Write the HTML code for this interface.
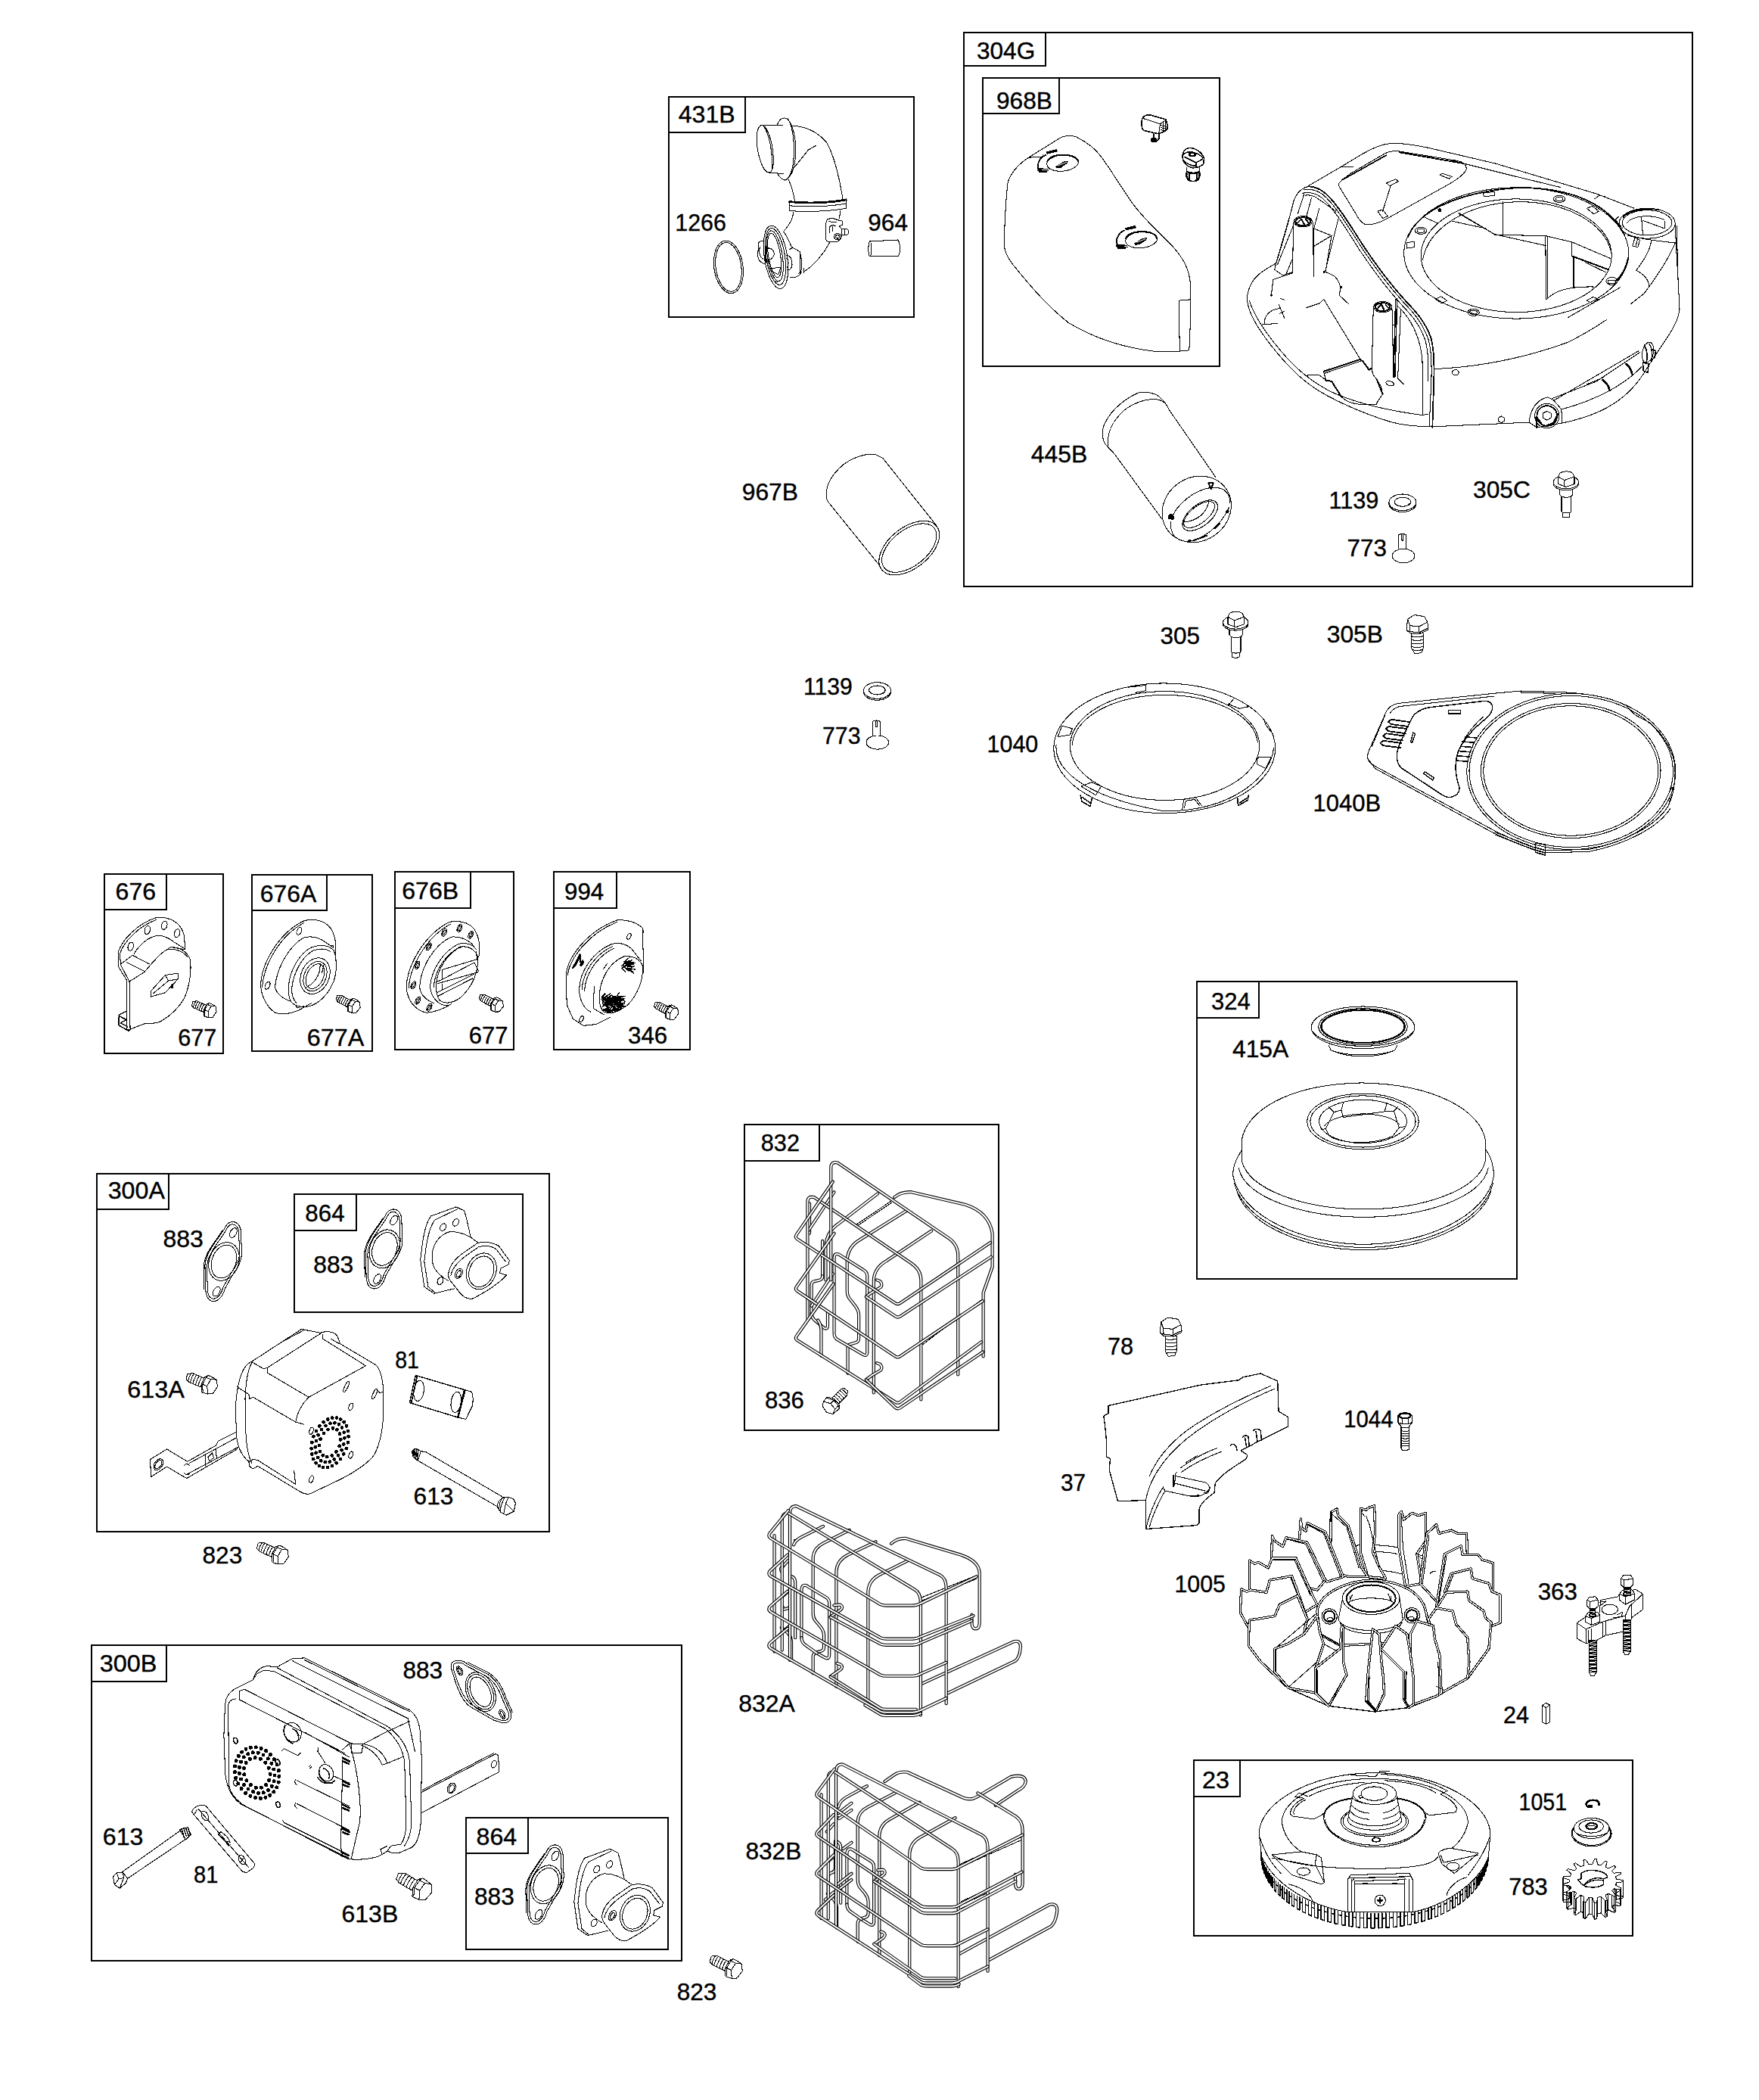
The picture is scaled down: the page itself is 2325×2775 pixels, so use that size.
<!DOCTYPE html>
<html><head><meta charset="utf-8"><title>Parts diagram</title>
<style>
html,body{margin:0;padding:0;background:#fff;}
svg{display:block;}
text{font-family:"Liberation Sans",sans-serif;font-size:31.2px;fill:#000;stroke:#000;stroke-width:.4px;}
.bx{fill:none;stroke:#000;stroke-width:2;shape-rendering:crispEdges;}
.p{shape-rendering:crispEdges;fill:none;stroke:#000;stroke-width:1.05;stroke-linecap:round;stroke-linejoin:round;}
.p *{vector-effect:non-scaling-stroke;}
.w{fill:#fff;}
.k{fill:#000;}
.wo{vector-effect:non-scaling-stroke;fill:none;stroke:#000;stroke-width:4.2;stroke-linecap:round;stroke-linejoin:round;}
.wi{vector-effect:non-scaling-stroke;fill:none;stroke:#fff;stroke-width:2;stroke-linecap:round;stroke-linejoin:round;}
</style></head><body>
<svg width="2325" height="2775" viewBox="0 0 2325 2775">
<rect width="2325" height="2775" fill="#fff"/>

<g class="bx">
<rect x="883.5" y="128" width="324.2" height="291.0"/><path d="M985.2 128V175H883.5"/>
<rect x="1274" y="43" width="963.0" height="731.5"/><path d="M1382 43V87H1274"/>
<rect x="1299" y="103" width="313.0" height="381.0"/><path d="M1400 103V150H1299"/>
<rect x="138" y="1155" width="157.0" height="236.5"/><path d="M220 1155V1202H138"/>
<rect x="332.6" y="1155.6" width="159.0" height="233.1"/><path d="M432.4 1155.6V1203H332.6"/>
<rect x="522" y="1152.4" width="157.4" height="234.6"/><path d="M622 1152.4V1200.4H522"/>
<rect x="731.7" y="1152.4" width="180.3" height="234.9"/><path d="M814.6 1152.4V1200.4H731.7"/>
<rect x="127.8" y="1551" width="597.8" height="472.7"/><path d="M223.2 1551V1597.7H127.8"/>
<rect x="388.7" y="1578.4" width="302.3" height="155.4"/><path d="M471.3 1578.4V1625.7H388.7"/>
<rect x="120.5" y="2173.5" width="780.8" height="417.5"/><path d="M220.2 2173.5V2221.6H120.5"/>
<rect x="615.8" y="2401.7" width="267.6" height="174.0"/><path d="M697.6 2401.7V2448.8H615.8"/>
<rect x="983.5" y="1486.3" width="336.8" height="403.7"/><path d="M1083.3 1486.3V1533.8H983.5"/>
<rect x="1581.6" y="1297" width="422.9" height="393.0"/><path d="M1664.2 1297V1345H1581.6"/>
<rect x="1577.6" y="2326.4" width="579.9" height="231.3"/><path d="M1639.3 2326.4V2374H1577.6"/>
</g>
<!-- 00_defs.svg -->
<defs class="p">
<g id="washer">
<ellipse cx="0" cy="1.9" rx="18" ry="10.8"/>
<ellipse class="w" cx="0" cy="0" rx="18" ry="10.8"/>
<ellipse cx="0" cy="-0.5" rx="10.8" ry="6"/>
<path d="M-9 2C-5 6.5 5 6.5 9 2"/>
</g>
<g id="rivet">
<ellipse class="w" cx="0" cy="0" rx="14.8" ry="9.2"/>
<path class="w" d="M-6.6 -9.5V-27.5C-4 -29.5 1 -29.5 3.6 -27.5V-9.5"/>
<path d="M-2.3 -28.5V-20.5H-0.2V-28.5"/>
</g>
<g id="bolt305">
<ellipse cx="0" cy="2" rx="16.7" ry="8.8"/>
<ellipse class="w" cx="0" cy="0" rx="16.7" ry="8.8"/>
<path class="w" d="M-10.3 -7.2L-8 -11.9C-3.2 -15.1 4.8 -15.1 8.8 -11.9L11.1 -7.2V2.4L0 6.4L-10.3 2.4Z"/>
<path d="M-10.3 -7.2L-2 -2.5L11.1 -7.2M-2 -2.5V5.6"/>
<path d="M-8.3 9.5V16.7L-5.9 19V39C-5.9 41.2 6.7 41.2 6.7 39V19L8.8 16.7V9.5M-5.9 19C-3 20.5 4 20.5 6.7 19"/>
<path d="M-4.8 40.7V45.4C-4.8 47.2 4.8 47.2 4.8 45.4V40.7"/>
</g>
<!-- hex self tapping screw; units: 8.795 per px; origin head center; tip pointing down -->
<g id="scr">
<path class="w" d="M-68 105V280L-30 343L45 330L65 280V105Z"/>
<path d="M-68 140C-40 150 30 150 65 138M-68 180C-40 190 30 190 65 178M-68 220C-40 230 30 230 65 218M-68 260C-40 270 30 270 65 258M-60 295C-35 305 30 305 58 293"/>
<path class="w" d="M-115 -60L-35 -110L80 -90L115 -27L125 45L120 65L25 110L-85 105L-125 70V25Z"/>
<path d="M-115 -60L-90 15L20 25L115 -27M-90 15L-85 85L20 95L110 50M20 25V95M-85 85L-125 70M20 95L25 110"/>
</g>
</defs>
<!-- 00_defs2.svg -->
<defs class="p">
<!-- gasket: units 3.909/px, origin center -->
<g id="gask">
<path id="gko" d="M45 -205C75 -205 90 -175 88 -140L92 -40C90 0 75 30 50 60L5 140C-5 180 -30 210 -60 205C-85 200 -95 170 -95 140L-98 20C-95 -20 -80 -50 -55 -85L0 -165C10 -190 25 -205 45 -205Z"/>
<path d="M42 -192C66 -192 79 -168 77 -138L81 -42C79 -5 66 22 42 52L-4 132C-13 168 -34 195 -58 192C-78 188 -85 165 -85 138L-88 24C-85 -14 -71 -42 -47 -76L8 -156C17 -178 28 -192 42 -192Z"/>
<path d="M-95 140L-98 20C-95 -20 -80 -50 -55 -85L0 -165" transform="translate(-7,4)"/>
<ellipse cx="0" cy="0" rx="76" ry="102" transform="rotate(20)"/>
<ellipse cx="0" cy="0" rx="62" ry="88" transform="rotate(20)"/>
<ellipse cx="48" cy="-148" rx="16" ry="27" transform="rotate(30 48 -148)"/>
<ellipse cx="-38" cy="155" rx="16" ry="27" transform="rotate(30 -38 155)"/>
</g>
<!-- intake elbow: units 3.909/px, origin = zoom(1190,55) -->
<g id="elbow" transform="translate(-1190,-55)">
<path d="M1455 215C1445 170 1435 120 1422 78L1380 58L1250 105C1230 130 1215 180 1205 250L1195 330L1215 470L1265 505L1370 480"/>
<path d="M1385 70L1270 125C1250 150 1235 200 1225 260L1215 340L1235 470L1270 500"/>
<ellipse cx="1312" cy="163" rx="14" ry="20" transform="rotate(30 1312 163)"/><ellipse cx="1378" cy="138" rx="14" ry="20" transform="rotate(30 1378 138)"/><ellipse cx="1298" cy="440" rx="14" ry="20" transform="rotate(30 1298 440)"/>
<path d="M1340 440C1290 410 1260 380 1255 330C1250 260 1290 200 1350 185C1400 185 1440 200 1490 240"/>
<path class="w" d="M1340 400C1345 360 1370 330 1410 300L1490 245C1520 235 1570 240 1600 260L1655 335L1650 355L1610 375L1605 400L1640 410L1620 430C1600 450 1570 470 1540 490L1470 530C1440 540 1410 520 1390 490L1350 440C1340 425 1338 410 1340 400Z"/>
<path d="M1352 412C1358 375 1382 348 1420 318L1495 265C1525 255 1562 258 1588 278L1635 340"/>
<ellipse cx="1510" cy="390" rx="75" ry="96" transform="rotate(22 1510 390)"/><ellipse cx="1510" cy="392" rx="62" ry="82" transform="rotate(22 1510 392)"/>
<ellipse cx="1393" cy="402" rx="17" ry="28" transform="rotate(28 1393 402)"/><ellipse cx="1393" cy="404" rx="9" ry="19" transform="rotate(28 1393 404)"/>
</g>
</defs>
<!-- 01_431B.svg -->
<g class="p" transform="translate(930,140) scale(0.15918)">
<!-- elbow -->
<path d="M478 160C430 180 430 330 470 450C495 530 530 570 560 545C595 500 580 330 540 230C520 180 495 155 478 160Z"/>
<path d="M500 168C545 240 578 390 566 525"/>
<path d="M478 160L655 158M545 555L660 562"/>
<path d="M612 155C625 120 645 100 670 100C720 100 755 200 765 330C770 470 740 590 680 615C660 622 640 600 612 562"/>
<path d="M700 105C745 180 760 330 745 470C738 520 725 570 700 600"/>
<path d="M740 165C850 170 940 210 1020 300C1080 400 1130 600 1155 770"/>
<path d="M700 600C730 660 745 720 757 788"/>
<path d="M935 328L870 365L750 515"/>
<path d="M712 790C850 805 1050 800 1185 772V850C1050 875 850 882 712 870Z"/>
<path d="M712 798C850 813 1050 808 1185 780" stroke-width="2"/>
<path d="M712 828C850 842 1050 836 1185 810"/>
<path d="M745 880C745 940 710 990 670 1035M1135 868L1128 935"/>
<path d="M1050 1130C1000 1220 920 1320 830 1380"/>
<!-- bracket -->
<path d="M1030 940C1060 930 1100 935 1105 945L1150 955V990L1125 995L1145 1020V1075C1145 1110 1110 1135 1080 1130L1030 1125C1010 1120 1010 1080 1012 1040C1012 1000 1015 950 1030 940Z"/>
<path d="M1040 960L1100 965M1045 1010C1050 990 1080 985 1100 1000M1045 1010V1050M1070 1005V1040"/>
<path d="M1150 1022H1190C1208 1025 1208 1065 1190 1070H1150M1172 1022V1070"/>
<circle cx="1112" cy="1085" r="27"/><circle cx="1112" cy="1085" r="15"/>
<!-- mounting flange -->
<ellipse cx="600" cy="1255" rx="95" ry="265" transform="rotate(-9 600 1255)"/>
<ellipse cx="597" cy="1250" rx="78" ry="238" transform="rotate(-9 597 1250)"/>
<ellipse cx="592" cy="1245" rx="62" ry="212" transform="rotate(-9 592 1245)"/>
<ellipse cx="588" cy="1240" rx="50" ry="185" transform="rotate(-9 588 1240)"/>
<path d="M500 1120C470 1120 450 1130 455 1150L450 1250C455 1290 480 1300 505 1310M470 1170C455 1200 465 1260 495 1270"/>
<path d="M690 1240C720 1240 740 1280 735 1320C730 1350 715 1365 695 1360M690 1265C705 1280 710 1320 695 1340"/>
<path d="M520 1185C560 1170 590 1200 585 1235C575 1265 545 1285 525 1290M515 1160V1300"/>
<path d="M545 1350L640 1340M560 1370L620 1400L640 1340M590 1455L615 1460"/>
<path d="M665 1045C700 1090 720 1150 730 1170L800 1210C815 1260 820 1340 805 1395C780 1420 750 1428 722 1425"/>
<path d="M715 1190L735 1180M800 1210V1395M830 1345V1385M790 1390L815 1378"/>
<!-- 1266 o-ring -->
<ellipse cx="207" cy="1337" rx="120" ry="220" transform="rotate(-8 207 1337)"/>
<ellipse cx="207" cy="1337" rx="106" ry="205" transform="rotate(-8 207 1337)"/>
<!-- 964 -->
<ellipse cx="1381" cy="1187" rx="12" ry="63"/>
<path d="M1381 1124L1612 1112C1636 1140 1636 1220 1615 1246L1381 1250"/>
</g>
<!-- 02_967B.svg -->
<g class="p" transform="translate(1080,580) scale(0.10233)">
<path d="M820 1650L140 810L120 765C105 600 180 470 340 330C450 250 600 190 745 198L850 250L1555 1135"/>
<ellipse cx="1190" cy="1408" rx="452" ry="264" transform="rotate(-38.5 1190 1408)"/>
<ellipse cx="1190" cy="1408" rx="412" ry="232" transform="rotate(-38.5 1190 1408)"/>
</g>
<!-- 03_968B.svg -->
<g class="p" transform="translate(1310,140) scale(0.17055)">
<path d="M290 400C200 460 150 530 130 590C110 750 105 950 100 1060C100 1130 130 1180 170 1230C260 1340 400 1520 600 1680C800 1800 1050 1880 1300 1905L1460 1900L1535 1893C1545 1700 1550 1500 1545 1380C1535 1250 1480 1170 1400 1080C1300 980 1180 870 1100 760C1000 620 920 480 850 390C800 320 720 270 660 240C620 225 570 230 540 245Z"/>
<path d="M290 400L400 393M1545 1500L1455 1508L1462 1900"/>
<!-- cap 1 -->
<ellipse cx="555" cy="442" rx="123" ry="63" transform="rotate(-6 555 442)"/>
<path d="M436 430C450 390 520 372 600 382C640 388 668 405 676 430" stroke-width="2.2"/>
<path d="M425 380C375 395 355 450 368 492" stroke-width="1.8"/>
<path d="M410 388L400 376" />
<path class="k" d="M500 470L560 432L600 425L590 445L540 480L505 482Z" stroke="none"/>
<path d="M520 462L585 436" stroke="#fff" stroke-width="1"/>
<path d="M432 360L505 342M436 368L508 350" stroke-width="2"/>
<path d="M362 488L440 490M365 500L442 502M372 510L430 512" stroke-width="1.8"/>
<!-- cap 2 -->
<ellipse cx="1165" cy="1037" rx="123" ry="63" transform="rotate(-6 1165 1037)"/>
<path d="M1046 1025C1060 985 1130 967 1210 977C1250 983 1278 1000 1286 1025" stroke-width="2.2"/>
<path d="M1030 965C985 985 960 1040 980 1078" stroke-width="1.8"/>
<path class="k" d="M1110 1065L1170 1027L1212 1018L1202 1040L1150 1075L1115 1077Z" stroke="none"/>
<path d="M1130 1057L1197 1030" stroke="#fff" stroke-width="1"/>
<path d="M1045 950L1115 933M1048 958L1118 941" stroke-width="2"/>
<path d="M972 1078L1052 1082M975 1090L1055 1094M982 1100L1040 1103" stroke-width="1.8"/>
<!-- small cap A -->
<path d="M1170 100C1180 75 1210 65 1240 72L1355 105L1370 160C1370 185 1340 205 1310 210L1290 215L1185 190C1165 185 1165 130 1170 100Z" stroke-width="1.6"/>
<path d="M1180 97L1310 140L1355 108M1310 140L1300 212M1315 150L1366 163M1315 168L1364 178M1315 186L1356 192M1335 120V200M1350 112V195"/>
<path d="M1258 215V250M1300 215C1310 240 1300 265 1280 275" stroke-width="2"/>
<ellipse class="k" cx="1262" cy="264" rx="22" ry="17"/>
<!-- small cap B -->
<path d="M1485 400C1480 350 1510 325 1545 325C1600 330 1650 380 1650 410L1645 450C1620 475 1590 480 1560 480C1520 470 1485 440 1485 400Z" stroke-width="1.6"/>
<path d="M1490 375C1530 340 1600 360 1640 400M1500 395L1590 440L1640 410M1590 440V475M1485 420C1520 450 1560 465 1590 465" stroke-width="1.5"/>
<ellipse cx="1560" cy="375" rx="22" ry="14" stroke-width="2.4"/>
<path d="M1515 480V555C1535 595 1600 595 1615 555V470" stroke-width="1.5"/>
<path d="M1515 520C1510 550 1525 575 1545 580M1615 520C1620 550 1605 575 1585 580M1535 530V575M1595 530V575M1520 510C1550 525 1590 525 1612 510" stroke-width="2.4"/>
</g>
<!-- 04_445B.svg -->
<g class="p" transform="translate(1440,500) scale(0.11939)">
<path d="M805 1560L280 840L205 760C130 700 130 560 180 480C250 340 400 220 540 160C640 145 740 160 800 230C850 280 870 320 880 345L1395 1090"/>
<path d="M205 760C190 600 250 470 400 340C500 270 600 235 700 230C770 230 820 250 850 290"/>
<ellipse cx="1187" cy="1448" rx="396" ry="351" transform="rotate(-34.7 1187 1448)"/>
<path d="M905 1560C960 1400 1150 1240 1340 1210C1480 1195 1560 1260 1555 1380M900 1590C890 1720 960 1800 1080 1805C1250 1790 1450 1640 1545 1430"/>
<ellipse cx="1225" cy="1517" rx="230" ry="118" transform="rotate(-38 1225 1517)"/>
<ellipse cx="1215" cy="1508" rx="205" ry="93" transform="rotate(-38 1215 1508)"/>
<path d="M1325 1340C1310 1480 1200 1580 1045 1590"/>
<path d="M1318 1160H1372L1345 1225Z" stroke-width="2"/>
<path class="k" d="M875 1520L905 1500L935 1530L930 1560L880 1555Z"/>
<circle class="k" cx="1108" cy="1800" r="14"/><circle class="k" cx="1528" cy="1472" r="14"/>
<path d="M1150 1795L1300 1740M1390 1660L1440 1610" stroke-width="2"/>
</g>
<!-- 05_304G_housing.svg -->
<g class="p" transform="translate(1640,180) scale(0.190476)">
<!-- outer silhouette -->
<path d="M2730 500L2470 400L2170 310L1770 190L1300 80C1200 60 1100 45 1040 50C980 55 920 80 850 120L700 210L460 350C420 365 390 390 370 440C350 520 300 720 245 880C180 920 100 960 70 1030C45 1080 40 1130 50 1170C70 1260 150 1380 250 1500C350 1620 450 1720 600 1800C750 1880 900 1940 1050 1985C1150 2010 1250 2015 1330 2015L2000 1985"/>
<path d="M60 1140C90 1240 170 1360 270 1480C370 1600 470 1690 620 1770C770 1840 1000 1900 1260 1935L1300 1928"/>
<path d="M1470 170L1870 270L2220 355M2455 435L2490 410L2530 420M700 210L780 215"/>
<!-- ridge -->
<path d="M460 350C500 345 540 360 580 390C640 440 700 520 850 760C950 910 1050 1040 1150 1150C1220 1220 1280 1290 1320 1400C1340 1470 1345 1560 1340 1700L1330 2020" stroke-width="1.8"/>
<path d="M440 372C490 362 530 375 570 405C630 455 690 535 838 772C938 922 1038 1052 1138 1162C1208 1232 1262 1300 1302 1410C1322 1480 1327 1570 1322 1700L1308 2015"/>
<path d="M430 395C480 385 520 395 560 425C615 470 675 550 822 786C922 936 1022 1066 1122 1176C1190 1246 1245 1312 1282 1420C1300 1490 1305 1580 1300 1700"/>
<path d="M450 410C480 405 510 412 545 440L660 520"/>
<!-- window -->
<path d="M680 330C690 310 720 290 760 260L1000 120C1030 105 1060 100 1100 105L1500 170C1550 180 1570 200 1565 230C1555 260 1500 300 1450 330L1000 580C950 605 900 620 860 610C840 600 820 580 800 540L690 360C680 345 678 335 680 330Z"/>
<path d="M700 305L1010 132M1100 112L1540 188" stroke-width="1.8"/>
<path d="M1380 268L1400 258L1465 280L1445 295ZM1010 325L1075 298L1095 312L1035 345ZM1040 345L985 520M950 520L985 510L1020 555L985 570Z"/>
<!-- posts -->
<ellipse cx="432" cy="592" rx="63" ry="38"/><ellipse cx="432" cy="592" rx="52" ry="29" stroke-width="2"/>
<path d="M395 600L420 575L440 610M450 575L470 600" stroke-width="2"/>
<path d="M365 600L360 950M500 600L507 975"/>
<ellipse cx="985" cy="1185" rx="63" ry="38"/><ellipse cx="985" cy="1185" rx="52" ry="29" stroke-width="2"/>
<path d="M950 1195L975 1165L995 1205M1005 1170L1025 1190" stroke-width="2"/>
<path d="M920 1200L910 1600L915 1650M1050 1200L1060 1670"/>
<!-- cavity lines -->
<path d="M440 400L395 540M490 430L455 560M545 500L505 650V975M680 560L585 940M505 640L630 690L505 765M630 690L590 930"/>
<path d="M350 520L245 880L235 925L290 965L355 945M365 620L255 890M355 860L315 955"/>
<path d="M355 950L225 995L212 1100M575 935L650 970C680 1000 695 1040 690 1060L685 1105L750 1165M575 1130L545 1160L455 1190M575 1130L830 1548"/>
<circle class="k" cx="212" cy="1102" r="6"/><circle class="k" cx="695" cy="1048" r="6"/><circle class="k" cx="578" cy="940" r="6"/>
<path d="M165 1300C160 1250 200 1200 270 1195M150 1305L255 1300M265 1170L305 1265M270 1230L300 1215M275 1125L300 1135"/>
<path d="M575 1632L830 1548L850 1565L890 1620L910 1610" stroke-width="2"/>
<path d="M580 1645L832 1560M575 1632L590 1690M630 1700L700 1810C750 1860 850 1870 940 1860L950 1840L985 1790L975 1740L945 1690L915 1650M450 1660L540 1655L590 1690"/>
<path d="M590 1695L630 1700L700 1810M945 1690L985 1790" stroke-width="2"/>
<path d="M1075 1130L1060 1670M1085 1130L1070 1670" stroke-width="1.6"/>
<path d="M1110 1200L1090 1680L1130 1720M1090 1180C1180 1260 1250 1400 1260 1560L1265 1930M1055 1310H1075"/>
<ellipse cx="1035" cy="1715" rx="28" ry="15" transform="rotate(15 1035 1715)"/>
<ellipse cx="1490" cy="1640" rx="23" ry="19"/>
<path d="M1808 1942L1830 1955V1975L1808 1988L1786 1975V1955Z"/>
<!-- ring -->
<ellipse cx="1912" cy="811" rx="780" ry="455"/>
<path d="M1160 700C1230 520 1500 390 1912 358C2300 350 2560 480 2660 680" stroke-width="1.8"/>
<ellipse cx="1912" cy="828" rx="662" ry="393"/>
<path d="M1262 860C1300 640 1560 470 1912 455C2260 450 2520 600 2570 800"/>
<path d="M2690 840C2680 900 2650 960 2600 1010" stroke-width="2"/>
<ellipse cx="1250" cy="655" rx="40" ry="24"/><ellipse cx="1250" cy="655" rx="26" ry="14"/>
<ellipse cx="2210" cy="435" rx="40" ry="24"/><ellipse cx="2210" cy="435" rx="26" ry="14"/>
<ellipse cx="1615" cy="1222" rx="40" ry="24"/><ellipse cx="1615" cy="1222" rx="26" ry="14"/>
<ellipse cx="2575" cy="1005" rx="40" ry="26"/><path d="M2550 1000H2600V1020H2550Z"/>
<path d="M1150 740L1205 730V770L1150 778ZM1350 1130L1390 1112L1430 1140L1395 1160ZM1680 395L1760 385V410L1690 420ZM2400 500L2440 485L2485 520L2450 540ZM2400 1140L2445 1115L2480 1130L2440 1160Z"/>
<circle class="k" cx="1380" cy="513" r="10"/>
<path d="M1280 565L1370 605M1520 535L1760 680"/>
<!-- inside opening -->
<path d="M1818 455V685M1510 535L1760 680L2120 760M1470 590L1700 640M1760 685L2110 690L2300 735L2570 850M2115 695L2118 1130M2130 700V1120M2295 735L2300 840M2125 1130C2170 1080 2270 1040 2450 1045"/>
<path d="M2308 835L2310 1050M2308 835L2550 925" stroke-width="2"/>
<path d="M2390 875L2535 945"/>
<!-- boss -->
<ellipse cx="2820" cy="605" rx="195" ry="105"/><ellipse cx="2820" cy="600" rx="172" ry="87"/>
<path d="M2655 560C2700 510 2800 495 2900 510" stroke-width="1.8"/>
<path d="M2680 600C2720 550 2850 540 2940 580M2790 585L2940 640L2945 590M2780 560L2790 680"/>
<path d="M2630 640C2670 700 2820 720 3015 740M3015 600L3020 740L3035 1000L3045 1200C3040 1260 3010 1320 2970 1380L2870 1530M3025 620L3035 1000"/>
<path d="M3015 740C2970 850 2870 1000 2800 1090L2705 1165M2850 720C2840 800 2790 870 2745 930L2770 945C2810 970 2830 1000 2835 1040"/>
<path d="M2685 690L2720 695L2770 720L2755 770L2715 760M2735 705L2720 755M2755 712L2740 762M2620 560L2600 580L2650 640"/>
<!-- lower body -->
<path d="M1340 1615C1700 1600 2020 1520 2270 1430C2370 1380 2470 1320 2540 1272M2270 1258L2635 1048M1470 2008"/>
<!-- handle -->
<path d="M2160 1820L2470 1700L2770 1500M2170 1835L2760 1490M2225 1895C2470 1830 2670 1720 2780 1600M2230 1990C2470 1940 2670 1850 2800 1640M2870 1530L2800 1640"/>
<path d="M2510 1690C2540 1710 2555 1740 2560 1765M2675 1580C2700 1600 2712 1630 2715 1650" stroke-width="2.6"/>
<path d="M2400 1722L2520 1672"/>
<ellipse cx="2825" cy="1500" rx="38" ry="72" transform="rotate(12 2825 1500)"/>
<path d="M2800 1450C2820 1480 2825 1530 2815 1570M2835 1440C2855 1470 2860 1520 2850 1560M2790 1570L2830 1580L2825 1640L2795 1630ZM2860 1480L2880 1490L2870 1540" stroke-width="1.6"/>
<!-- bolt boss -->
<path d="M2000 1985C2010 1900 2050 1830 2130 1810L2170 1830L2225 1895L2230 1990L2055 2020Z"/>
<circle cx="2125" cy="1940" r="85"/><circle cx="2125" cy="1940" r="70" stroke-width="1.8"/>
<path d="M2125 1908L2153 1922V1954L2125 1970L2097 1954V1922Z"/>
<path d="M2055 2020L2050 1950L2085 1990M2200 1930L2170 1990L2120 2010" stroke-width="2.4"/>
</g>
<!-- 06_hw.svg -->
<g class="p">
<use href="#washer" x="1853.9" y="663.8"/>
<use href="#rivet" x="1855" y="734.5"/>
<use href="#bolt305" x="2069.9" y="637.1"/>
<use href="#washer" x="1159.4" y="912.5"/>
<use href="#rivet" x="1159.8" y="981"/>
<use href="#bolt305" x="1633.3" y="822.4"/>
<g transform="translate(1873.7,825) scale(0.1137)"><use href="#scr"/></g>
<g transform="translate(1547.8,1753.5) scale(0.1137)"><use href="#scr"/></g>
</g>
<g class="p"><g transform="translate(1097.5,1857.5) rotate(225) scale(0.088)"><use href="#scr"/></g></g>
<!-- 07_1040.svg -->
<g class="p" transform="translate(1380,890) scale(0.18192)">
<ellipse cx="875" cy="543" rx="805" ry="472"/>
<path d="M88 520C75 700 300 900 875 1000C1400 1000 1660 720 1668 540M1600 340L1610 372L1660 437"/>
<ellipse cx="877" cy="525" rx="688" ry="395"/>
<path d="M205 520C215 320 500 160 880 155C1250 160 1530 310 1552 500"/>
<path d="M612 100L740 85V125L660 140M1380 180L1345 225L1420 255L1480 240M130 380L205 400L190 445L100 460ZM1560 605L1650 610L1610 690L1550 660L1545 630ZM375 885L415 820L345 790L270 820L370 880M1005 985L1015 915L1100 900L1145 960M1020 975L1030 925L1095 915L1130 960"/>
<path d="M265 885L275 930L335 965L350 900M280 900L335 940M1405 900L1410 960L1480 920L1485 885M1420 940L1475 905" stroke-width="1.6"/>
<circle class="k" cx="1345" cy="225" r="6"/><circle class="k" cx="1480" cy="240" r="5"/>
</g>
<!-- 08_1040B.svg -->
<g class="p" transform="translate(1800,900) scale(0.25)">
<path d="M30 400C30 380 40 360 50 340L130 160C140 140 160 125 190 118L700 65L840 52L1020 58C1150 60 1300 80 1400 130L1430 165C1460 195 1500 205 1530 225C1600 290 1650 380 1655 450C1660 530 1650 600 1620 660C1560 760 1400 850 1200 890L970 895C900 880 800 840 700 790L70 450C45 435 30 420 30 400Z"/>
<path d="M38 418L70 462L700 805C800 850 900 890 970 907L1200 902C1400 862 1570 772 1632 672M150 168C160 152 175 142 200 134L700 80M122 182L52 348M840 60L1020 66" />
<path d="M700 797L915 880M705 812L915 895"/>
<ellipse cx="1107" cy="478" rx="552" ry="412"/><ellipse cx="1107" cy="478" rx="539" ry="400"/>
<ellipse cx="1105" cy="474" rx="475" ry="356"/><ellipse cx="1105" cy="474" rx="462" ry="343"/>
<path d="M185 400C185 370 195 340 210 310L265 195C280 165 310 150 350 140L650 105C680 105 695 125 690 150C685 175 660 195 630 220C580 260 540 310 510 370C490 430 495 500 515 560C520 590 500 610 460 615C440 612 420 600 400 585L210 460C195 445 185 425 185 400Z" stroke-width="1.5"/>
<path d="M640 190C560 260 500 360 495 450C495 500 510 540 515 560"/>
<path d="M458 155H522V172H458ZM258 322L272 272L282 280L266 326ZM325 487L335 480L382 512L375 524Z" stroke-width="1.4"/>
<path d="M140 215L155 203L250 216M140 215L155 228L245 240M127 252L142 240L238 252M127 252L142 265L232 277M113 290L128 277L224 290M113 290L128 303L218 314M98 328L113 315L210 328M98 328L113 341L204 352" stroke-width="1.8"/>
<path d="M545 295L605 300M532 320L595 325M521 345L585 350M511 370L576 375M503 395L568 400M498 420L561 425" stroke-width="1.6"/>
<path d="M918 855L970 865V920L918 905ZM918 893L970 908M918 880L970 895" stroke-width="1.6"/>
<path d="M1620 600L1640 560L1645 590L1625 640"/>
</g>
<!-- 09_676.svg -->
<g class="p" transform="translate(130,1195) scale(0.21035)">
<!-- 676 -->
<path d="M545 285L540 200C530 150 500 115 455 95C430 85 400 78 360 85C250 120 150 220 125 300V390L180 480V790L200 785"/>
<path d="M135 310C160 235 255 135 365 97M135 310L140 380L195 485L200 785"/>
<ellipse cx="308" cy="162" rx="17" ry="27" transform="rotate(15 308 162)"/><ellipse cx="415" cy="132" rx="17" ry="27" transform="rotate(15 415 132)"/><ellipse cx="495" cy="182" rx="17" ry="27" transform="rotate(15 495 182)"/><ellipse cx="203" cy="265" rx="17" ry="27" transform="rotate(15 203 265)"/>
<path d="M225 310C260 250 320 200 380 195C420 200 450 215 480 240L545 280M140 375L215 320L320 375M180 365L290 420M195 485L290 425C330 380 380 310 430 285L455 268L545 285"/>
<path d="M455 270C500 265 550 290 575 340C590 420 570 520 540 590C500 660 430 720 370 745L290 750L200 785M430 285C470 275 530 290 560 330"/>
<path d="M330 545L420 445L500 433V470L420 555L330 580ZM345 560L440 480L500 470M420 445L440 480"/>
<ellipse class="k" cx="463" cy="515" rx="6" ry="12"/>
<path d="M180 670L130 695L128 760L190 795L200 785M128 700L175 725L140 745L185 770" stroke-width="1.5"/>
<!-- 676A -->
<path d="M1490 300C1495 260 1490 200 1460 150C1420 100 1350 85 1290 105C1150 170 1030 350 1020 500C1020 560 1050 640 1110 680C1150 695 1200 690 1260 665L1340 620"/>
<path d="M1030 520C1040 370 1150 190 1290 118M1490 300L1495 400"/>
<ellipse cx="1262" cy="168" rx="14" ry="25" transform="rotate(25 1262 168)"/><ellipse cx="1063" cy="510" rx="14" ry="25" transform="rotate(25 1063 510)"/>
<path d="M1210 610C1150 590 1120 560 1110 520C1120 400 1200 260 1290 210C1340 195 1390 210 1430 240L1475 270"/>
<path d="M1195 520C1200 420 1260 310 1340 270C1400 250 1450 260 1480 290C1500 340 1500 420 1480 480C1450 560 1390 620 1330 640C1280 650 1230 640 1210 610C1195 580 1193 550 1195 520Z"/>
<path d="M1215 530C1225 430 1280 330 1350 290C1400 275 1440 280 1460 300M1215 530C1215 570 1225 600 1245 620"/>
<ellipse cx="1362" cy="450" rx="88" ry="118" transform="rotate(25 1362 450)"/><ellipse cx="1362" cy="452" rx="68" ry="98" transform="rotate(25 1362 452)"/><ellipse cx="1362" cy="452" rx="52" ry="82" transform="rotate(25 1362 452)"/>
<path d="M1395 375L1390 420C1380 460 1350 500 1310 520M1415 385L1405 430"/>
<path d="M1240 635L1250 650L1290 640M1462 262L1475 258L1478 275"/>
</g>
<g class="p">
<g transform="translate(277.5,1336) rotate(114) scale(0.075)"><use href="#scr"/></g>
<g transform="translate(467.6,1329.8) rotate(118) scale(0.075)"><use href="#scr"/></g>
</g>
<!-- 10_676B.svg -->
<g class="p" transform="translate(515,1195) scale(0.23309)">
<!-- 676B -->
<path d="M505 300C515 250 510 190 480 140C450 105 400 90 340 100C200 170 100 340 95 470C100 540 140 600 210 615C260 610 310 590 350 565"/>
<path d="M108 475C115 350 210 185 345 112"/>
<ellipse cx="310" cy="160" rx="12" ry="23" transform="rotate(25 310 160)"/><ellipse cx="397" cy="135" rx="12" ry="23" transform="rotate(25 397 135)"/><ellipse cx="460" cy="172" rx="12" ry="23" transform="rotate(25 460 172)"/><ellipse cx="222" cy="240" rx="12" ry="23" transform="rotate(25 222 240)"/><ellipse cx="157" cy="345" rx="12" ry="23" transform="rotate(25 157 345)"/><ellipse cx="135" cy="458" rx="12" ry="23" transform="rotate(25 135 458)"/><ellipse cx="160" cy="545" rx="12" ry="23" transform="rotate(25 160 545)"/><ellipse cx="225" cy="585" rx="12" ry="23" transform="rotate(25 225 585)"/><ellipse cx="310" cy="160" rx="5" ry="15" transform="rotate(25 310 160)"/><ellipse cx="397" cy="135" rx="5" ry="15" transform="rotate(25 397 135)"/><ellipse cx="460" cy="172" rx="5" ry="15" transform="rotate(25 460 172)"/><ellipse cx="222" cy="240" rx="5" ry="15" transform="rotate(25 222 240)"/><ellipse cx="157" cy="345" rx="5" ry="15" transform="rotate(25 157 345)"/><ellipse cx="135" cy="458" rx="5" ry="15" transform="rotate(25 135 458)"/><ellipse cx="160" cy="545" rx="5" ry="15" transform="rotate(25 160 545)"/><ellipse cx="225" cy="585" rx="5" ry="15" transform="rotate(25 225 585)"/>
<path d="M250 560C200 540 175 510 170 470C175 360 250 230 350 185C400 180 450 200 480 240"/>
<path d="M230 460C240 370 300 270 390 225C430 215 470 225 490 255M230 460C230 500 250 550 300 570L340 575M250 470C255 380 310 290 400 240"/>
<path d="M265 450C270 370 330 270 410 240C450 235 490 260 500 300C505 380 470 470 400 530C360 560 310 570 280 540C265 510 262 480 265 450Z"/>
<path d="M300 370L500 310M265 440L300 425L480 330L505 380M270 450L500 385M300 425V370M270 500L480 395M275 520L470 420M300 485V450M490 270L500 330"/>
<!-- 994 --><clipPath id="dm994"><path d="M1190 540C1185 440 1240 330 1330 295C1380 290 1420 310 1435 350C1440 420 1410 510 1350 570C1300 610 1250 625 1215 610C1195 590 1190 570 1190 540Z"/></clipPath>
<path d="M1440 160L1435 135C1400 100 1340 85 1290 90C1120 150 1010 300 1000 400L1005 570L1040 650L1100 688L1170 680L1250 640"/>
<path d="M1010 400C1020 310 1125 165 1290 100M1435 140L1440 390"/>
<ellipse cx="1357" cy="182" rx="10" ry="18" transform="rotate(25 1357 182)"/><ellipse cx="1088" cy="650" rx="10" ry="18" transform="rotate(25 1088 650)"/>
<path d="M1040 360L1080 285L1085 345L1100 325M1050 350L1075 305M1080 345C1095 350 1100 330 1095 320" stroke-width="2.2"/>
<path d="M1140 610C1100 590 1075 540 1075 480C1080 380 1150 270 1260 225C1300 215 1340 225 1370 250L1425 320M1090 485C1095 390 1160 285 1265 238M1105 490C1110 400 1170 300 1270 250"/>
<path d="M1190 540C1185 440 1240 330 1330 295C1380 290 1420 310 1435 350C1440 420 1410 510 1350 570C1300 610 1250 625 1215 610C1195 590 1190 570 1190 540Z"/>
<path d="M1160 465L1155 590L1215 625M1210 370L1235 335"/>
<path d="M1327 347l22 5M1346 325l15 17M1328 333l35 -1M1357 344l28 -17M1347 362l25 12M1349 325l30 5M1330 324l32 -1M1351 362l29 21M1335 359l24 22M1359 327l18 -14M1363 342l28 -10M1340 340l22 4M1344 363l29 21M1358 367l28 -17M1358 366l33 3M1351 332l32 4M1329 325l32 24M1319 359l23 -17M1330 357l32 -23M1346 325l29 -8M1359 367l25 25M1330 326l27 -23M1325 341l27 -17M1317 362l21 23M1360 340l24 1M1347 349l26 6M1362 345l24 11M1327 336l35 1M1342 323l23 4M1316 350l28 -22M1346 343l29 -7M1350 356l15 -22M1349 366l20 -2M1345 337l22 -9M1333 349l21 -6M1354 324l26 12M1331 333l31 -13M1324 342l29 -20M1331 338l32 -3M1358 330l22 8" stroke-width="1.2" clip-path="url(#dm994)"/>
<path d="M1297 560l20 -19M1258 536l31 17M1220 544l31 7M1289 550l18 -10M1287 543l22 -4M1246 556l33 -17M1201 607l33 24M1248 608l34 -14M1282 597l28 1M1232 550l20 -22M1265 545l31 -23M1299 583l33 20M1299 572l15 12M1219 546l28 1M1246 607l27 -8M1228 599l25 14M1239 536l26 16M1219 593l33 15M1291 518l28 18M1205 543l20 1M1247 562l31 -25M1206 530l17 -22M1307 599l17 0M1235 547l22 7M1265 552l19 -9M1214 570l29 -6M1209 534l22 5M1286 554l31 6M1247 553l25 10M1246 583l24 -13M1259 584l16 -4M1247 601l34 -6M1299 593l20 -2M1214 595l28 19M1287 581l30 3M1211 573l15 -18M1285 522l17 -20M1297 535l15 17M1213 598l28 17M1305 573l31 -23M1284 566l29 -20M1282 606l16 -9M1262 596l20 -16M1227 576l30 -5M1240 555l22 -4M1209 565l34 -4M1282 533l29 13M1274 567l25 7M1299 532l17 12M1301 567l24 11M1220 543l19 4M1235 540l29 23M1233 585l23 18M1264 543l19 -24M1253 554l18 -7M1235 591l18 25M1253 574l24 17M1290 570l25 11M1294 556l30 23M1251 539l20 11M1274 609l32 -13M1221 542l19 10M1294 603l20 18M1234 558l30 -21M1210 597l21 -7M1264 582l15 -8M1248 564l19 4M1305 555l26 -19M1230 581l17 19M1300 527l34 -6M1285 589l21 9M1272 594l20 13M1306 581l26 -19M1254 551l29 9M1262 535l28 7M1220 602l28 -19M1303 531l22 11M1266 570l28 -2M1234 534l16 11M1283 569l30 -7M1229 554l32 -23M1256 541l30 -7M1237 556l26 14M1239 598l17 -11M1211 528l31 11M1220 535l23 12M1290 589l27 -18M1244 536l26 3M1222 541l31 -23M1288 602l34 -6M1261 573l28 24M1276 546l32 -1M1266 587l15 14M1273 564l25 -2M1221 568l16 0M1271 560l26 23M1298 530l31 6M1206 552l20 -21M1259 606l21 19M1276 530l32 5M1302 586l30 -8M1289 606l32 -3M1283 564l17 -23M1209 537l18 -0M1277 569l23 7M1234 562l30 -5M1220 603l29 -7M1241 568l27 -14M1200 537l31 -18M1251 536l19 -16M1244 533l16 -19M1219 564l16 -24M1249 556l29 -22M1244 555l16 23M1224 526l24 -17M1268 550l17 -22M1280 544l31 -2M1303 546l20 -12M1290 577l22 -20M1275 610l27 -25M1203 526l18 -23M1206 580l33 -15M1307 563l31 21M1303 521l21 5M1304 526l21 17M1213 555l22 9M1302 534l30 12M1292 570l33 -7M1246 539l31 -1M1230 534l29 5M1278 554l25 -17M1278 520l24 13M1275 527l20 17M1271 601l32 -3M1299 587l22 -6M1208 555l34 -20M1263 528l17 7M1226 522l18 7M1264 519l20 23M1224 571l23 14M1266 592l26 -16M1220 525l32 -19M1203 609l19 20M1209 562l19 16M1268 578l30 19M1238 575l24 -19M1292 574l31 -15M1259 562l30 -21M1238 564l16 3M1281 558l28 5" stroke-width="1.2" clip-path="url(#dm994)"/>
</g>
<g class="p">
<g transform="translate(656.7,1328.5) rotate(118) scale(0.075)"><use href="#scr"/></g>
<g transform="translate(887.9,1338.6) rotate(118) scale(0.075)"><use href="#scr"/></g>
</g>
<!-- 11_gaskets.svg -->
<g class="p">
<g transform="translate(296,1667) scale(0.25583)"><use href="#gask"/></g>
<g transform="translate(508.4,1650.4) scale(0.25583)"><use href="#gask"/></g>
<g transform="translate(554.4,1594.1) scale(0.25583)"><use href="#elbow"/></g>
<g transform="translate(721.7,2490.3) scale(0.25583)"><use href="#gask"/></g>
<g transform="translate(757.5,2442.5) scale(0.25583)"><use href="#elbow"/></g>
</g>
<!-- 12_300A.svg -->
<g class="p" transform="translate(180,1740) scale(0.19329)">
<path d="M1130 85L1260 110C1300 95 1350 100 1375 130L1395 185L1640 330C1670 360 1685 420 1690 500V640C1690 760 1670 860 1630 940C1600 990 1500 1060 1400 1110L1190 1210C1160 1215 1140 1210 1120 1195L830 1020C810 1040 790 1045 775 1020L770 990C720 950 690 880 685 800L680 620C685 520 700 420 740 350C760 320 780 310 800 300Z"/>
<path d="M800 315L870 355L895 350L1260 115M1150 90L1000 170M900 385L1180 550L1570 335L1275 150V120M895 350L900 385M1330 150L1390 185"/>
<path d="M800 300C770 340 750 430 745 560L750 800C755 900 770 960 790 1000M690 480L770 530L775 560L800 550L1090 720L1145 735M1180 550C1130 600 1100 660 1090 720M770 990L800 975L830 980L1090 1145L1080 1055M830 1020L880 1050"/>
<g class="k" stroke="none"><circle cx="1390" cy="884" r="12.5"/><circle cx="1368" cy="923" r="12.5"/><circle cx="1338" cy="949" r="12.5"/><circle cx="1305" cy="958" r="12.5"/><circle cx="1277" cy="948" r="12.5"/><circle cx="1258" cy="920" r="12.5"/><circle cx="1252" cy="880" r="12.5"/><circle cx="1260" cy="836" r="12.5"/><circle cx="1282" cy="797" r="12.5"/><circle cx="1312" cy="771" r="12.5"/><circle cx="1345" cy="762" r="12.5"/><circle cx="1373" cy="772" r="12.5"/><circle cx="1392" cy="800" r="12.5"/><circle cx="1398" cy="840" r="12.5"/><circle cx="1405" cy="912" r="12.5"/><circle cx="1382" cy="948" r="12.5"/><circle cx="1354" cy="975" r="12.5"/><circle cx="1323" cy="991" r="12.5"/><circle cx="1292" cy="994" r="12.5"/><circle cx="1264" cy="984" r="12.5"/><circle cx="1243" cy="962" r="12.5"/><circle cx="1229" cy="930" r="12.5"/><circle cx="1225" cy="891" r="12.5"/><circle cx="1231" cy="849" r="12.5"/><circle cx="1245" cy="808" r="12.5"/><circle cx="1268" cy="772" r="12.5"/><circle cx="1296" cy="745" r="12.5"/><circle cx="1327" cy="729" r="12.5"/><circle cx="1358" cy="726" r="12.5"/><circle cx="1386" cy="736" r="12.5"/><circle cx="1407" cy="758" r="12.5"/><circle cx="1421" cy="790" r="12.5"/><circle cx="1425" cy="829" r="12.5"/><circle cx="1419" cy="871" r="12.5"/><circle cx="1437" cy="901" r="12.5"/><circle cx="1419" cy="939" r="12.5"/><circle cx="1396" cy="973" r="12.5"/><circle cx="1369" cy="1000" r="12.5"/><circle cx="1339" cy="1019" r="12.5"/><circle cx="1308" cy="1029" r="12.5"/><circle cx="1279" cy="1029" r="12.5"/><circle cx="1252" cy="1019" r="12.5"/><circle cx="1229" cy="1000" r="12.5"/><circle cx="1212" cy="973" r="12.5"/><circle cx="1202" cy="939" r="12.5"/><circle cx="1198" cy="901" r="12.5"/><circle cx="1202" cy="860" r="12.5"/><circle cx="1213" cy="819" r="12.5"/><circle cx="1231" cy="781" r="12.5"/><circle cx="1254" cy="747" r="12.5"/><circle cx="1281" cy="720" r="12.5"/><circle cx="1311" cy="701" r="12.5"/><circle cx="1342" cy="691" r="12.5"/><circle cx="1371" cy="691" r="12.5"/><circle cx="1398" cy="701" r="12.5"/><circle cx="1421" cy="720" r="12.5"/><circle cx="1438" cy="747" r="12.5"/><circle cx="1448" cy="781" r="12.5"/><circle cx="1452" cy="819" r="12.5"/><circle cx="1448" cy="860" r="12.5"/></g>
<ellipse cx="1437" cy="478" rx="11" ry="40" transform="rotate(25 1437 478)"/>
<ellipse cx="1630" cy="528" rx="11" ry="40" transform="rotate(25 1630 528)"/><path d="M1650 500L1665 520L1685 515"/>
<ellipse cx="1468" cy="615" rx="13" ry="25" transform="rotate(20 1468 615)"/><ellipse cx="1198" cy="780" rx="13" ry="25" transform="rotate(20 1198 780)"/><ellipse cx="1468" cy="945" rx="13" ry="25" transform="rotate(20 1468 945)"/><ellipse cx="1198" cy="1110" rx="13" ry="25" transform="rotate(20 1198 1110)"/>
<!-- bracket -->
<path d="M680 790L560 850L545 880L350 990L210 905L97 975L100 1095L210 1025L345 1105L690 905M365 1000L680 830M350 1075L700 890M475 950V1020M545 905L550 970M490 960L520 930L530 965L500 985ZM330 1015C335 1005 355 1005 365 1015M330 1070C335 1082 355 1082 365 1072"/>
<ellipse cx="152" cy="1010" rx="27" ry="43" transform="rotate(35 152 1010)"/><ellipse cx="152" cy="1010" rx="18" ry="33" transform="rotate(35 152 1010)"/>
</g>
<g class="p"><g transform="translate(276.6,1831) rotate(113) scale(0.095)"><use href="#scr"/></g></g>
<!-- 13_300A_b.svg -->
<g class="p" transform="translate(510,1780) scale(0.142857)">
<path d="M275 262L735 398L670 652L220 515Z" stroke-width="1.4"/>
<path d="M290 268L235 518M725 400L665 650" stroke-width="1.8"/>
<path d="M735 398L795 415C810 460 805 520 800 545L740 668L670 652"/>
<ellipse cx="305" cy="405" rx="47" ry="96" transform="rotate(8 305 405)"/>
<ellipse cx="650" cy="510" rx="47" ry="96" transform="rotate(8 650 510)"/>
<!-- 613 -->
<path d="M240 985C240 950 270 935 290 945L325 965L365 968L1095 1395M295 1050L1030 1475M295 1050L245 1010ZM325 965L295 1050"/>
<path d="M255 955L250 1012M270 945L262 1022M285 945L276 1034M300 952L288 1044" stroke-width="1.6"/>
<path d="M1040 1430L1075 1395L1135 1388L1180 1405L1200 1445L1185 1520L1115 1555L1065 1530L1030 1480Z"/>
<path d="M1075 1395L1055 1440L1045 1505M1095 1400L1065 1470L1060 1525M1135 1388L1110 1445L1185 1520M1110 1445L1090 1545"/>
</g>
<!-- 14_300B.svg -->
<g class="p" transform="translate(280,2180) scale(0.2274)">
<path d="M80 300C85 270 100 250 130 230L240 175C250 130 280 100 320 95L380 100L470 50L540 48L1150 350C1190 380 1205 420 1210 470L1220 640L1215 1000C1210 1080 1190 1130 1160 1150L1090 1180C1060 1185 1040 1180 1020 1170L990 1190C950 1215 850 1225 790 1215L760 1200L160 890C110 850 85 790 78 720L70 500C72 420 75 350 80 300Z"/>
<path d="M170 890C140 870 110 840 100 790L95 320C100 300 110 290 140 285M170 898L760 1195M800 545C850 700 870 900 860 1000L810 1215M760 640L750 1150L760 1195"/>
<path d="M160 290L770 600M190 230L810 545L880 548M160 240V290M160 240L190 230M760 580L800 545"/>
<path d="M360 125L1010 460C1080 520 1110 580 1120 650L1130 1000C1130 1060 1120 1100 1100 1130M380 105L1020 445C1100 500 1140 570 1150 650L1160 1000C1160 1060 1140 1110 1120 1140M470 65L1140 400M540 60L1150 360M240 175L260 140L300 120L360 125"/>
<path d="M880 548C950 560 1000 600 1020 660L1115 620M880 548L1010 480L1150 415M870 555C930 580 970 620 990 670L1020 660M810 545V600H870L880 548M1140 400L1180 590M1020 1170L1040 1140L1100 1130M990 1190L980 1160L1020 1140"/>
<g class="k" stroke="none"><circle cx="331" cy="687" r="11"/><circle cx="339" cy="723" r="11"/><circle cx="333" cy="758" r="11"/><circle cx="315" cy="786" r="11"/><circle cx="288" cy="801" r="11"/><circle cx="257" cy="801" r="11"/><circle cx="226" cy="786" r="11"/><circle cx="202" cy="760" r="11"/><circle cx="188" cy="725" r="11"/><circle cx="187" cy="689" r="11"/><circle cx="198" cy="657" r="11"/><circle cx="221" cy="635" r="11"/><circle cx="251" cy="627" r="11"/><circle cx="283" cy="634" r="11"/><circle cx="311" cy="656" r="11"/><circle cx="360" cy="695" r="11"/><circle cx="365" cy="730" r="11"/><circle cx="361" cy="764" r="11"/><circle cx="348" cy="793" r="11"/><circle cx="327" cy="816" r="11"/><circle cx="300" cy="830" r="11"/><circle cx="270" cy="833" r="11"/><circle cx="240" cy="826" r="11"/><circle cx="211" cy="809" r="11"/><circle cx="187" cy="784" r="11"/><circle cx="169" cy="752" r="11"/><circle cx="160" cy="718" r="11"/><circle cx="160" cy="683" r="11"/><circle cx="169" cy="651" r="11"/><circle cx="186" cy="624" r="11"/><circle cx="210" cy="606" r="11"/><circle cx="238" cy="597" r="11"/><circle cx="269" cy="599" r="11"/><circle cx="299" cy="611" r="11"/><circle cx="326" cy="633" r="11"/><circle cx="347" cy="661" r="11"/><circle cx="378" cy="668" r="11"/><circle cx="388" cy="702" r="11"/><circle cx="391" cy="736" r="11"/><circle cx="388" cy="770" r="11"/><circle cx="377" cy="800" r="11"/><circle cx="360" cy="826" r="11"/><circle cx="338" cy="846" r="11"/><circle cx="312" cy="858" r="11"/><circle cx="283" cy="863" r="11"/><circle cx="253" cy="860" r="11"/><circle cx="224" cy="850" r="11"/><circle cx="196" cy="832" r="11"/><circle cx="172" cy="807" r="11"/><circle cx="153" cy="778" r="11"/><circle cx="140" cy="745" r="11"/><circle cx="133" cy="711" r="11"/><circle cx="134" cy="677" r="11"/><circle cx="141" cy="645" r="11"/><circle cx="155" cy="617" r="11"/><circle cx="174" cy="594" r="11"/><circle cx="198" cy="577" r="11"/><circle cx="226" cy="568" r="11"/><circle cx="256" cy="567" r="11"/><circle cx="286" cy="574" r="11"/><circle cx="315" cy="588" r="11"/><circle cx="340" cy="610" r="11"/><circle cx="362" cy="637" r="11"/></g>
<ellipse cx="138" cy="528" rx="12" ry="17" transform="rotate(-20 138 528)" stroke-width="1.6"/><ellipse cx="383" cy="655" rx="12" ry="17" transform="rotate(-20 383 655)" stroke-width="1.6"/><ellipse cx="138" cy="775" rx="12" ry="17" transform="rotate(-20 138 775)" stroke-width="1.6"/><ellipse cx="385" cy="900" rx="12" ry="17" transform="rotate(-20 385 900)" stroke-width="1.6"/>
<path d="M405 590L420 575L500 615L515 600M620 570L615 590L660 660M540 480L800 625M495 760L800 910M495 895L800 1050M410 990L420 1005L790 1190M485 755C480 770 485 780 495 785M485 890C480 905 485 915 495 920M710 735L800 775"/>
<path d="M760 628L800 648M760 648L795 662" stroke-width="2.6"/><path d="M760 763L800 783M760 783L795 797" stroke-width="2.6"/><path d="M760 900L800 920M760 920L795 934" stroke-width="2.6"/><path d="M760 1040L800 1060M760 1060L795 1074" stroke-width="2.6"/><path d="M755 1176L795 1196M755 1196L790 1210" stroke-width="2.6"/>
<ellipse cx="470" cy="480" rx="48" ry="58" transform="rotate(-25 470 480)"/><path d="M425 440C405 480 430 530 470 545M470 460C500 470 510 510 500 530M490 470L505 500" stroke-width="1.5"/>
<ellipse cx="665" cy="715" rx="40" ry="50" transform="rotate(-25 665 715)"/><path d="M625 700C615 740 650 780 700 775M650 690C680 700 690 730 680 750M615 740C630 775 680 790 715 760" stroke-width="1.5"/>
<path d="M565 680L575 670M570 690L580 680"/>
<!-- bracket -->
<path d="M1215 830L1650 605L1665 615L1670 710L1215 950M1225 815L1640 600"/>
<ellipse cx="1640" cy="665" rx="14" ry="22" transform="rotate(20 1640 665)"/><ellipse cx="1393" cy="805" rx="22" ry="32" transform="rotate(25 1393 805)"/><ellipse cx="1393" cy="808" rx="14" ry="24" transform="rotate(25 1393 808)"/>
<!-- gasket 883 -->
<path d="M1395 75C1420 55 1460 60 1480 80L1600 140C1650 170 1680 220 1700 280L1740 370C1745 410 1720 430 1690 425L1640 410L1500 330C1460 300 1440 250 1420 200L1392 110C1390 95 1390 85 1395 75Z"/>
<path d="M1405 85C1425 70 1455 72 1472 90L1592 152C1640 180 1668 228 1688 285L1727 372C1730 400 1712 416 1690 412L1645 398L1508 318C1470 290 1452 245 1432 196L1404 112C1402 100 1402 92 1405 85Z"/>
<path d="M1480 80L1600 140C1650 170 1680 220 1700 280L1740 370" transform="translate(8,-6)"/>
<ellipse cx="1562" cy="245" rx="68" ry="108" transform="rotate(-25 1562 245)"/><ellipse cx="1562" cy="245" rx="54" ry="92" transform="rotate(-25 1562 245)"/><ellipse cx="1562" cy="245" rx="80" ry="120" transform="rotate(-25 1562 245)"/>
<ellipse cx="1440" cy="122" rx="15" ry="28" transform="rotate(-25 1440 122)"/><ellipse cx="1688" cy="375" rx="15" ry="28" transform="rotate(-25 1688 375)"/><ellipse cx="1440" cy="122" rx="7" ry="20" transform="rotate(-25 1440 122)"/><ellipse cx="1688" cy="375" rx="7" ry="20" transform="rotate(-25 1688 375)"/>
</g>
<!-- 15_300B_b.svg -->
<g class="p" transform="translate(120,2360) scale(0.27288)">
<path d="M435 215L150 418M460 258L178 448M430 212L470 200L485 235L460 260Z"/>
<path d="M440 208L452 248M450 205L463 244M460 203L473 240M470 201L482 236" stroke-width="1.5"/>
<path d="M108 440L125 420L155 418L178 448L170 470L140 495L115 478Z"/>
<path d="M125 420L135 450L115 478M155 418L160 445L140 495M135 450L160 445"/>
<path d="M490 125C495 105 520 90 550 92L560 100L795 378L790 395L755 420L735 415L500 140Z"/>
<path d="M520 110L765 395M500 140L515 115"/>
<ellipse cx="553" cy="145" rx="15" ry="25" transform="rotate(-30 553 145)"/><ellipse cx="733" cy="358" rx="15" ry="25" transform="rotate(-30 733 358)"/>
<path d="M742 345L725 372"/>
<path d="M618 235L630 222L660 245L675 272L650 268ZM650 268L668 290L675 285"/>
</g>
<g class="p">
<g transform="translate(558,2497.8) rotate(121) scale(0.112)"><use href="#scr"/></g>
<g transform="translate(370.2,2055.8) rotate(115) scale(0.097)"><use href="#scr"/></g>
<g transform="translate(969.8,2602.8) rotate(116) scale(0.1)"><use href="#scr"/></g>
</g>
<!-- 16_832.svg -->
<g transform="translate(1040,1520) scale(0.17139)">
<g class="p"><path d="M540 570L800 395M548 580L808 404M1045 1500L1505 1150"/></g>
<path class="wo" d="M830 362Q880 320 960 322L1380 420Q1560 480 1585 640V900L1515 1100V1590"/><path class="wi" d="M830 362Q880 320 960 322L1380 420Q1560 480 1585 640V900L1515 1100V1590"/>
<path class="wo" d="M300 1000V740Q305 630 400 565L700 335"/><path class="wi" d="M300 1000V740Q305 630 400 565L700 335"/>
<path class="wo" d="M470 1720V1520Q470 1500 490 1495L535 1482Q555 1476 555 1450V1270Q555 1232 522 1192L482 1142Q465 1120 465 1080V850Q470 745 560 692L920 468"/><path class="wi" d="M470 1720V1520Q470 1500 490 1495L535 1482Q555 1476 555 1450V1270Q555 1232 522 1192L482 1142Q465 1120 465 1080V850Q470 745 560 692L920 468"/>
<path class="wo" d="M670 1870V1000Q675 905 770 852L1115 622"/><path class="wi" d="M670 1870V1000Q675 905 770 852L1115 622"/>
<path class="wo" d="M175 640V410"/><path class="wi" d="M175 640V410"/>
<path class="wo" d="M275 980V700"/><path class="wi" d="M275 980V700"/>
<path class="wo" d="M190 1262V1045Q190 1012 215 1010L250 1002Q275 996 275 970"/><path class="wi" d="M190 1262V1045Q190 1012 215 1010L250 1002Q275 996 275 970"/>
<path class="wo" d="M190 1262Q195 1292 215 1310L290 1372Q315 1382 315 1352V1250"/><path class="wi" d="M190 1262Q195 1292 215 1310L290 1372Q315 1382 315 1352V1250"/>
<path class="wo" d="M265 1585V1380Q262 1340 240 1310"/><path class="wi" d="M265 1585V1380Q262 1340 240 1310"/>
<path class="wo" d="M365 1400V832Q365 790 400 802L590 922Q620 938 620 972V1560Q620 1590 590 1576L395 1462Q365 1447 365 1412"/><path class="wi" d="M365 1400V832Q365 790 400 802L590 922Q620 938 620 972V1560Q620 1590 590 1576L395 1462Q365 1447 365 1412"/>
<path class="wo" d="M365 322L165 622M355 952L190 1200"/><path class="wi" d="M365 322L165 622M355 952L190 1200"/>
<path class="wo" d="M612 1128L650 1100L725 1055Q740 1035 720 1010L695 1000"/><path class="wi" d="M612 1128L650 1100L725 1055Q740 1035 720 1010L695 1000"/>
<path class="wo" d="M612 1768L650 1740L725 1695Q740 1675 720 1650L695 1640"/><path class="wi" d="M612 1768L650 1740L725 1695Q740 1675 720 1650L695 1640"/>
<path class="wo" d="M160 1300V400Q160 350 210 362L955 868Q1035 920 1035 1000V1922"/><path class="wi" d="M160 1300V400Q160 350 210 362L955 868Q1035 920 1035 1000V1922"/>
<path class="wo" d="M340 1000V135Q340 85 392 96L1240 672Q1320 722 1320 812V1730"/><path class="wi" d="M340 1000V135Q340 85 392 96L1240 672Q1320 722 1320 812V1730"/>
<path class="wo" d="M355 242L75 650Q60 672 82 686L838 1180Q855 1190 872 1180L1570 712"/><path class="wi" d="M355 242L75 650Q60 672 82 686L838 1180Q855 1190 872 1180L1570 712"/>
<path class="wo" d="M612 1130L838 1280Q855 1292 872 1282L1575 822"/><path class="wi" d="M612 1130L838 1280Q855 1292 872 1282L1575 822"/>
<path class="wo" d="M365 640L75 1052Q60 1072 82 1086L838 1590Q855 1600 872 1590L1510 1162"/><path class="wi" d="M365 640L75 1052Q60 1072 82 1086L838 1590Q855 1600 872 1590L1510 1162"/>
<path class="wo" d="M360 1030L75 1432Q60 1452 82 1466L838 1942Q855 1952 872 1942L1500 1478"/><path class="wi" d="M360 1030L75 1432Q60 1452 82 1466L838 1942Q855 1952 872 1942L1500 1478"/>
<path class="wo" d="M612 1770L838 1985Q855 1997 872 1987L1512 1555"/><path class="wi" d="M612 1770L838 1985Q855 1997 872 1987L1512 1555"/>

</g>
<!-- 17_832A.svg -->
<g transform="translate(1000,1980) scale(0.20466)">
<g class="p"><path d="M1065 640L1420 498M1065 662L1420 520M1140 860L1210 830M1140 900L1210 870M240 270L330 230M215 340L240 345"/></g>
<path class="wo" d="M115 990V240"/><path class="wi" d="M115 990V240"/>
<path class="wo" d="M870 292Q905 258 960 258L1310 362Q1435 400 1440 480V800Q1440 842 1415 842Q1390 842 1390 800V752"/><path class="wi" d="M870 292Q905 258 960 258L1310 362Q1435 400 1440 480V800Q1440 842 1415 842Q1390 842 1390 800V752"/>
<path class="wo" d="M225 1045V925Q222 885 195 862L160 835"/><path class="wi" d="M225 1045V925Q222 885 195 862L160 835"/>
<path class="wo" d="M365 1130V1020Q367 1000 385 995L420 985Q435 980 435 960V880Q432 850 410 825L380 790Q365 770 365 740V380Q370 320 430 290L600 205"/><path class="wi" d="M365 1130V1020Q367 1000 385 995L420 985Q435 980 435 960V880Q432 850 410 825L380 790Q365 770 365 740V380Q370 320 430 290L600 205"/>
<path class="wo" d="M515 1215V470Q520 400 590 365L770 280"/><path class="wi" d="M515 1215V470Q520 400 590 365L770 280"/>
<path class="wo" d="M720 1335V600Q725 530 790 495L980 400"/><path class="wi" d="M720 1335V600Q725 530 790 495L980 400"/>
<path class="wo" d="M240 300Q250 270 290 250L430 180"/><path class="wi" d="M240 300Q250 270 290 250L430 180"/>
<path class="wo" d="M290 900V592Q292 555 320 562L450 640Q470 652 470 680V1010Q470 1040 445 1030L395 1002"/><path class="wi" d="M290 900V592Q292 555 320 562L450 640Q470 652 470 680V1010Q470 1040 445 1030L395 1002"/>
<path class="wo" d="M290 900Q292 935 320 950L390 1000"/><path class="wi" d="M290 900Q292 935 320 950L390 1000"/>
<path class="wo" d="M250 900V540Q248 512 228 505"/><path class="wi" d="M250 900V540Q248 512 228 505"/>
<path class="wo" d="M160 450L205 400M160 640L205 600M150 880L205 830"/><path class="wi" d="M160 450L205 400M160 640L205 600M150 880L205 830"/>
<path class="wo" d="M160 470Q150 450 170 440M170 700Q160 720 185 715L215 705"/><path class="wi" d="M160 470Q150 450 170 440M170 700Q160 720 185 715L215 705"/>
<path class="wo" d="M477 765L540 722Q565 702 540 686L500 690M477 1150L540 1107Q565 1087 540 1071L520 1065"/><path class="wi" d="M477 765L540 722Q565 702 540 686L500 690M477 1150L540 1107Q565 1087 540 1071L520 1065"/>
<path class="wo" d="M1065 1198L1660 925Q1705 912 1705 960Q1700 1030 1670 1050L1230 1260"/><path class="wi" d="M1065 1198L1660 925Q1705 912 1705 960Q1700 1030 1670 1050L1230 1260"/>
<path class="wo" d="M215 1045V95Q215 48 258 50L1185 495Q1225 515 1225 580V1325"/><path class="wi" d="M215 1045V95Q215 48 258 50L1185 495Q1225 515 1225 580V1325"/>
<path class="wo" d="M165 980V140Q165 92 205 95L1020 588Q1060 610 1060 672V1400"/><path class="wi" d="M165 980V140Q165 92 205 95L1020 588Q1060 610 1060 672V1400"/>
<path class="wo" d="M205 78L85 225Q72 245 92 258L800 685Q815 692 840 692H1010Q1040 690 1060 678L1420 505"/><path class="wi" d="M205 78L85 225Q72 245 92 258L800 685Q815 692 840 692H1010Q1040 690 1060 678L1420 505"/>
<path class="wo" d="M200 365L85 470Q72 490 92 503L800 900Q815 907 840 907H1010Q1040 905 1060 893L1400 758"/><path class="wi" d="M200 365L85 470Q72 490 92 503L800 900Q815 907 840 907H1010Q1040 905 1060 893L1400 758"/>
<path class="wo" d="M477 767L800 940Q815 947 840 947H1010Q1040 945 1060 933L1390 790"/><path class="wi" d="M477 767L800 940Q815 947 840 947H1010Q1040 945 1060 933L1390 790"/>
<path class="wo" d="M200 600L85 700Q72 720 92 733L800 1140Q815 1147 840 1147H1010Q1040 1145 1060 1133L1225 1060"/><path class="wi" d="M200 600L85 700Q72 720 92 733L800 1140Q815 1147 840 1147H1010Q1040 1145 1060 1133L1225 1060"/>
<path class="wo" d="M200 840L85 935Q72 955 92 968L800 1375Q815 1382 840 1382H1010Q1040 1380 1060 1368L1225 1290"/><path class="wi" d="M200 840L85 935Q72 955 92 968L800 1375Q815 1382 840 1382H1010Q1040 1380 1060 1368L1225 1290"/>
<path class="wo" d="M477 1152L800 1355Q815 1362 840 1362H1030"/><path class="wi" d="M477 1152L800 1355Q815 1362 840 1362H1030"/>
<path class="wo" d="M700 1335L800 1395Q815 1402 840 1402H1010Q1040 1400 1060 1388"/><path class="wi" d="M700 1335L800 1395Q815 1402 840 1402H1010Q1040 1400 1060 1388"/>

</g>
<!-- 18_832B.svg -->
<g transform="translate(1060,2310) scale(0.20466)">
<g class="p"><path d="M1020 750L1425 570M1020 770L1425 590M1030 990L1200 912M1030 1012L1200 934M1030 1035L1200 955M215 440L240 445"/></g>
<path class="wo" d="M125 1100V300"/><path class="wi" d="M125 1100V300"/>
<path class="wo" d="M535 215L600 170Q630 150 680 155L1040 320Q1090 340 1130 315L1350 185Q1440 165 1445 215Q1440 250 1400 270L1250 370"/><path class="wi" d="M535 215L600 170Q630 150 680 155L1040 320Q1090 340 1130 315L1350 185Q1440 165 1445 215Q1440 250 1400 270L1250 370"/>
<path class="wo" d="M1135 290L1380 440Q1425 470 1425 530V870Q1425 910 1400 910Q1378 910 1378 870V815"/><path class="wi" d="M1135 290L1380 440Q1425 470 1425 530V870Q1425 910 1400 910Q1378 910 1378 870V815"/>
<path class="wo" d="M225 1160V1030Q222 990 195 967L165 940"/><path class="wi" d="M225 1160V1030Q222 990 195 967L165 940"/>
<path class="wo" d="M360 1250V1130Q362 1108 380 1102L410 1092Q428 1087 428 1065V990Q425 960 405 935L375 900Q360 880 360 850V470Q365 410 425 380L600 290"/><path class="wi" d="M360 1250V1130Q362 1108 380 1102L410 1092Q428 1087 428 1065V990Q425 960 405 935L375 900Q360 880 360 850V470Q365 410 425 380L600 290"/>
<path class="wo" d="M500 1340V560Q505 490 575 455L760 350"/><path class="wi" d="M500 1340V560Q505 490 575 455L760 350"/>
<path class="wo" d="M695 1470V680Q700 610 765 575L990 450"/><path class="wi" d="M695 1470V680Q700 610 765 575L990 450"/>
<path class="wo" d="M235 380Q245 340 290 315L420 245"/><path class="wi" d="M235 380Q245 340 290 315L420 245"/>
<path class="wo" d="M290 1010V680Q292 645 320 652L445 730Q465 742 465 770V1120Q465 1150 440 1140L395 1112"/><path class="wi" d="M290 1010V680Q292 645 320 652L445 730Q465 742 465 770V1120Q465 1150 440 1140L395 1112"/>
<path class="wo" d="M290 1010Q292 1045 320 1060L385 1105"/><path class="wi" d="M290 1010Q292 1045 320 1060L385 1105"/>
<path class="wo" d="M250 1000V640Q248 612 228 605"/><path class="wi" d="M250 1000V640Q248 612 228 605"/>
<path class="wo" d="M215 600V780Q212 800 190 805Q170 812 170 835V930"/><path class="wi" d="M215 600V780Q212 800 190 805Q170 812 170 835V930"/>
<path class="wo" d="M320 355L235 420M320 400L240 455M320 610L265 650M320 810L230 880M320 850L240 910"/><path class="wi" d="M320 355L235 420M320 400L240 455M320 610L265 650M320 810L230 880M320 850L240 910"/>
<path class="wo" d="M160 540L205 490M160 740L205 700M150 980L205 930"/><path class="wi" d="M160 540L205 490M160 740L205 700M150 980L205 930"/>
<path class="wo" d="M467 860L525 820Q548 800 525 785L490 788M467 1265L525 1225Q548 1205 525 1190L510 1185"/><path class="wi" d="M467 860L525 820Q548 800 525 785L490 788M467 1265L525 1225Q548 1205 525 1190L510 1185"/>
<path class="wo" d="M1015 1330L1600 1010Q1650 1000 1648 1050Q1640 1120 1610 1150L1205 1370"/><path class="wi" d="M1015 1330L1600 1010Q1650 1000 1648 1050Q1640 1120 1610 1150L1205 1370"/>
<path class="wo" d="M220 1150V150Q220 103 262 105L1160 560Q1200 580 1200 645V1440"/><path class="wi" d="M220 1150V150Q220 103 262 105L1160 560Q1200 580 1200 645V1440"/>
<path class="wo" d="M170 1100V195Q170 148 210 152L970 650Q1010 672 1010 735V1540"/><path class="wi" d="M170 1100V195Q170 148 210 152L970 650Q1010 672 1010 735V1540"/>
<path class="wo" d="M210 135L100 285Q85 305 107 318L770 775Q785 782 810 782H970Q1000 780 1015 768L1425 560"/><path class="wi" d="M210 135L100 285Q85 305 107 318L770 775Q785 782 810 782H970Q1000 780 1015 768L1425 560"/>
<path class="wo" d="M205 430L100 540Q85 560 107 573L770 1020Q785 1027 810 1027H970Q1000 1025 1015 1013L1420 800"/><path class="wi" d="M205 430L100 540Q85 560 107 573L770 1020Q785 1027 810 1027H970Q1000 1025 1015 1013L1420 800"/>
<path class="wo" d="M465 860L770 1060Q785 1067 810 1067H970Q1000 1065 1015 1053L1380 860"/><path class="wi" d="M465 860L770 1060Q785 1067 810 1067H970Q1000 1065 1015 1053L1380 860"/>
<path class="wo" d="M205 690L100 795Q85 815 107 828L770 1270Q785 1277 810 1277H970Q1000 1275 1015 1263L1200 1170"/><path class="wi" d="M205 690L100 795Q85 815 107 828L770 1270Q785 1277 810 1277H970Q1000 1275 1015 1263L1200 1170"/>
<path class="wo" d="M205 950L100 1050Q85 1070 107 1083L770 1510Q785 1517 810 1517H970Q1000 1515 1015 1503L1200 1410"/><path class="wi" d="M205 950L100 1050Q85 1070 107 1083L770 1510Q785 1517 810 1517H970Q1000 1515 1015 1503L1200 1410"/>
<path class="wo" d="M465 1265L770 1480Q785 1487 810 1487H990"/><path class="wi" d="M465 1265L770 1480Q785 1487 810 1487H990"/>
<path class="wo" d="M690 1470L770 1530Q785 1537 810 1537H970Q1000 1535 1015 1523"/><path class="wi" d="M690 1470L770 1530Q785 1537 810 1537H970Q1000 1535 1015 1523"/>

</g>
<!-- 19_324.svg -->
<g class="p" transform="translate(1560,1280) scale(0.27288)">
<!-- 415A -->
<ellipse cx="885" cy="285" rx="250" ry="102"/>
<ellipse cx="885" cy="281" rx="215" ry="88"/>
<ellipse cx="885" cy="280" rx="202" ry="80" stroke-width="2.4"/>
<path d="M637 300C700 400 1070 400 1133 300M720 372L730 395C800 425 970 425 1040 395L1050 372M750 402C820 432 950 432 1020 402M635 270V300M1135 270V300"/>
<!-- cup -->
<path d="M298 930V830C320 690 520 560 880 553C1240 560 1455 690 1478 830V930"/>
<path d="M298 880C270 920 255 960 255 1000M1478 875C1500 900 1515 940 1520 1000"/>
<path d="M298 930C330 1070 600 1165 890 1165C1180 1165 1450 1070 1478 930M283 965C310 1110 600 1203 890 1203C1180 1203 1465 1110 1492 965M255 1000C290 1200 600 1335 890 1335C1180 1335 1490 1200 1520 1000M262 1040C310 1230 610 1350 890 1350C1170 1350 1470 1230 1515 1040M275 1080C330 1250 620 1362 890 1362C1160 1362 1450 1250 1505 1080"/>
<ellipse cx="885" cy="740" rx="270" ry="135"/><ellipse cx="885" cy="740" rx="255" ry="125"/>
<ellipse cx="885" cy="740" rx="212" ry="105"/>
<path d="M705 775L745 695L780 685L790 650M780 685L790 720L990 692L1000 655M990 692L1035 690L1060 770L1030 810C980 835 900 845 850 842C790 838 740 825 720 808L705 775M745 695L720 670M1035 690L1055 668M705 775L685 780M1060 770L1085 765M700 760C720 730 800 705 885 703C970 705 1040 725 1062 755"/>
</g>
<!-- 20_37.svg -->
<g class="p" transform="translate(1440,1800) scale(0.25)">
<path d="M75 285L100 270V230L590 120L790 95L810 80L905 60L995 100L1000 260L1050 290V340L910 410L800 468L835 490L830 510C770 550 700 590 665 640L660 690C620 720 590 740 580 780V850L570 862L298 882V730L150 735L105 570L110 510L90 500C95 420 85 350 75 285Z" stroke-width="1.3"/>
<path d="M318 600C360 500 450 400 560 330C700 240 850 170 960 125M298 730C320 600 420 470 560 370C700 270 850 195 980 140M480 560C520 530 600 480 675 455M485 582C540 542 620 502 700 472M510 530L570 495"/>
<path d="M450 650L455 590L465 580M455 602L610 635C640 645 640 680 620 695L605 690M450 640L610 680M390 665L400 680L540 710L580 708C610 700 630 680 640 660M390 660C350 720 310 820 300 880M400 680C370 730 330 820 318 870"/>
<path d="M535 708L580 706M445 600V655" stroke-width="2.2"/>
<path d="M745 440C755 430 770 432 775 445L780 465M810 395C820 385 835 385 840 395L845 445M868 360C880 350 900 352 905 365L910 412M880 365L888 420M822 400L830 445" stroke-width="1.5"/>
<!-- 1044 -->
<path d="M1632 285C1632 262 1705 262 1705 285V320L1690 340V455C1690 470 1648 470 1648 455V340L1632 320Z" stroke-width="1.3"/>
<ellipse cx="1668" cy="284" rx="30" ry="13" stroke-width="2"/>
<path d="M1632 318C1650 330 1690 330 1705 318M1655 292V325M1685 292V325M1648 345H1690M1648 375C1660 380 1680 380 1690 375M1648 388C1660 393 1680 393 1690 388M1648 401C1660 406 1680 406 1690 401M1648 414C1660 419 1680 419 1690 414M1648 427C1660 432 1680 432 1690 427M1648 440C1660 445 1680 445 1690 440M1648 362C1660 367 1680 367 1690 362"/>
</g>
<!-- 21_1005.svg -->
<g class="p" transform="translate(1620,1980) scale(0.21603)" stroke-width="1.2">
<!-- back ring -->
<path d="M520 540C650 470 800 440 900 440C1050 440 1150 480 1210 530M780 290C850 280 980 285 1050 300M900 330C950 325 1010 330 1050 340M1100 350C1150 340 1180 345 1200 370"/>
<!-- back blades -->
<path class="w" d="M828 62L860 70L880 55L910 45L915 210L900 330L940 420L980 490L870 480L825 330Z" stroke-width="3.4"/><path d="M828 62L860 70L880 55L910 45L915 210L900 330L940 420L980 490L870 480L825 330Z" stroke="#fff" stroke-width="1.3"/>
<path d="M860 110L880 160L940 420M835 90L850 110"/>
<path class="w" d="M645 85L680 65L690 105L750 165L830 420L870 480L760 480L640 450Z" stroke-width="3.4"/><path d="M645 85L680 65L690 105L750 165L830 420L870 480L760 480L640 450Z" stroke="#fff" stroke-width="1.3"/>
<path d="M655 100L740 175L815 425M645 85V140"/>
<path class="w" d="M460 125L465 180L490 200L500 150L610 205L720 480L620 510L450 260Z" stroke-width="3.4"/><path d="M460 125L465 180L490 200L500 150L610 205L720 480L620 510L450 260Z" stroke="#fff" stroke-width="1.3"/>
<path d="M500 160L600 215L705 485"/>
<path class="w" d="M285 230L300 260L350 295L370 240L500 270L610 500L560 560L275 500Z" stroke-width="3.4"/><path d="M285 230L300 260L350 295L370 240L500 270L610 500L560 560L275 500Z" stroke="#fff" stroke-width="1.3"/>
<path d="M375 250L490 280L595 505"/>
<path class="w" d="M145 380L180 400L200 390L260 425L285 365L430 365L530 590L560 650L480 700L145 560Z" stroke-width="3.4"/><path d="M145 380L180 400L200 390L260 425L285 365L430 365L530 590L560 650L480 700L145 560Z" stroke="#fff" stroke-width="1.3"/>
<path d="M290 375L420 375L520 595"/>
<path class="w" d="M1060 100L1075 80L1090 130L1140 90L1180 105L1225 90V260L1170 340L1200 520L1100 540L1060 300Z" stroke-width="3.4"/><path d="M1060 100L1075 80L1090 130L1140 90L1180 105L1225 90V260L1170 340L1200 520L1100 540L1060 300Z" stroke="#fff" stroke-width="1.3"/>
<path d="M1075 100L1085 300L1120 520M1170 340L1225 360"/>
<path class="w" d="M1230 215L1290 160L1305 215L1380 195L1420 215H1475L1478 340L1340 480L1300 640L1190 520Z" stroke-width="3.4"/><path d="M1230 215L1290 160L1305 215L1380 195L1420 215H1475L1478 340L1340 480L1300 640L1190 520Z" stroke="#fff" stroke-width="1.3"/>
<path d="M1245 225L1205 520M1250 460C1260 450 1275 445 1285 445"/>
<path class="w" d="M1340 340L1440 290L1450 345H1545L1570 375L1635 395V560L1500 600L1290 660Z" stroke-width="3.4"/><path d="M1340 340L1440 290L1450 345H1545L1570 375L1635 395V560L1500 600L1290 660Z" stroke="#fff" stroke-width="1.3"/>
<path d="M1352 350L1300 655"/>
<path class="w" d="M1380 460L1500 430L1510 490L1610 520L1630 570L1680 590V760L1630 780L1400 700L1340 570Z" stroke-width="3.4"/><path d="M1380 460L1500 430L1510 490L1610 520L1630 570L1680 590V760L1630 780L1400 700L1340 570Z" stroke="#fff" stroke-width="1.3"/>
<path d="M1392 470L1350 580"/>
<!-- hub plate -->
<path class="w" d="M560 690C570 600 700 510 890 500C1080 505 1200 580 1225 690L1240 760L1100 880L700 900L575 830Z" stroke-width="3.4"/><path d="M560 690C570 600 700 510 890 500C1080 505 1200 580 1225 690L1240 760L1100 880L700 900L575 830Z" stroke="#fff" stroke-width="1.3"/>
<ellipse class="w" cx="890" cy="610" rx="175" ry="100"/>
<ellipse cx="890" cy="612" rx="150" ry="82" stroke-width="2"/>
<path d="M750 640C780 600 1000 600 1030 640M760 600V625L775 590M1010 600V625L995 585"/>
<path d="M715 615L690 740C720 830 1050 830 1085 740L1065 615M700 760C740 850 1040 850 1080 760"/>
<circle cx="635" cy="722" r="47"/><circle cx="635" cy="722" r="34" stroke-width="2"/><ellipse cx="640" cy="740" rx="18" ry="10"/>
<circle cx="1140" cy="716" r="47"/><circle cx="1140" cy="716" r="34" stroke-width="2"/><ellipse cx="1135" cy="735" rx="18" ry="10"/>
<!-- left broad blade -->
<path class="w" d="M95 555L130 570L150 560L250 575L270 500L405 475L430 540L500 740L490 770L145 800L90 700Z" stroke-width="3.4"/><path d="M95 555L130 570L150 560L250 575L270 500L405 475L430 540L500 740L490 770L145 800L90 700Z" stroke="#fff" stroke-width="1.3"/>
<path d="M400 490L440 590L495 745"/>
<!-- rim -->
<path d="M140 800L215 1000L380 1160L630 1270L910 1305L1120 1280L1300 1210L1470 1100L1580 960L1630 780" stroke-width="1.4"/>
<path d="M215 985L300 950M230 1010L310 975M580 830L700 900M600 890L690 940M1200 1000C1260 1020 1300 1080 1310 1150M1340 940C1400 960 1440 1020 1460 1100M1150 990L1240 1040"/>
<!-- front blades -->
<path class="w" d="M145 745L180 740L300 720L330 650L440 595L500 740L490 770L480 830L380 890L300 920V1060L385 1160L215 1000L140 900Z" stroke-width="3.4"/><path d="M145 745L180 740L300 720L330 650L440 595L500 740L490 770L480 830L380 890L300 920V1060L385 1160L215 1000L140 900Z" stroke="#fff" stroke-width="1.3"/>
<path d="M300 920L560 700M310 1065L540 1010"/>
<path class="w" d="M300 920L380 890L480 830L560 720L580 830L600 890L550 1040V1190L385 1160L300 1060Z" stroke-width="3.4"/><path d="M300 920L380 890L480 830L560 720L580 830L600 890L550 1040V1190L385 1160L300 1060Z" stroke="#fff" stroke-width="1.3"/>
<path d="M390 1150L560 1000"/>
<path class="w" d="M1350 575L1480 570L1490 625L1580 690L1590 730L1625 760L1610 920L1480 1100L1460 1110L1410 770L1290 670Z" stroke-width="3.4"/><path d="M1350 575L1480 570L1490 625L1580 690L1590 730L1625 760L1610 920L1480 1100L1460 1110L1410 770L1290 670Z" stroke="#fff" stroke-width="1.3"/>
<path class="w" d="M1240 740L1290 670L1390 690L1410 770L1480 850L1490 1000L1480 1100L1320 1190L1280 860Z" stroke-width="3.4"/><path d="M1240 740L1290 670L1390 690L1410 770L1480 850L1490 1000L1480 1100L1320 1190L1280 860Z" stroke="#fff" stroke-width="1.3"/>
<path class="w" d="M1130 830L1170 750L1270 780L1280 860L1310 960L1320 1190L1290 1210L1150 1260L1130 950Z" stroke-width="3.4"/><path d="M1130 830L1170 750L1270 780L1280 860L1310 960L1320 1190L1290 1210L1150 1260L1130 950Z" stroke="#fff" stroke-width="1.3"/>
<path d="M1300 1000L1305 1200M1290 1150L1330 1170"/>
<path class="w" d="M950 920L1040 780L1110 830L1130 950L1150 1100V1260L1120 1280L1090 1230V1060Z" stroke-width="3.4"/><path d="M950 920L1040 780L1110 830L1130 950L1150 1100V1260L1120 1280L1090 1230V1060Z" stroke="#fff" stroke-width="1.3"/>
<path d="M1105 1060L1100 1230M1090 1225L1120 1275" stroke-width="1.8"/>
<path class="w" d="M550 1040L560 1030L700 920L710 780L720 790V1000L740 1080L700 1150L630 1270L550 1190Z" stroke-width="3.4"/><path d="M550 1040L560 1030L700 920L710 780L720 790V1000L740 1080L700 1150L630 1270L550 1190Z" stroke="#fff" stroke-width="1.3"/>
<path d="M560 1050V1190L630 1265M640 1260L720 1100" />
<path class="w" d="M870 1080L900 800L940 830L950 960L965 1100L970 1200L920 1300L860 1240Z" stroke-width="3.4"/><path d="M870 1080L900 800L940 830L950 960L965 1100L970 1200L920 1300L860 1240Z" stroke="#fff" stroke-width="1.3"/>
<path d="M880 1090L875 1240L920 1295M930 1290L960 1200" />
<path d="M860 1240L920 1300" stroke-width="2"/>
</g>
<!-- 22_363.svg -->
<g class="p" transform="translate(1960,2060) scale(0.13644)">
<path d="M910 620L1000 560L1130 520L1140 400L1310 365L1330 330L1480 295L1550 340V490L1440 570V580L1380 700L1190 740L1100 790L1000 820L910 770Z"/>
<path d="M910 620L1000 680V820M1000 680L1160 610L1190 600L1380 550L1420 460L1550 340M1190 600V740M1165 612V750M1380 550V700M1440 440V570M1020 690V810M1050 680V800"/>
<ellipse cx="1230" cy="490" rx="78" ry="50"/>
<path d="M1130 420L1195 410L1140 450M1265 570L1340 560L1355 515L1300 540"/>
<!-- left bolt -->
<path class="w" d="M1030 790V1100L1045 1130H1080L1100 1100V790Z"/>
<path d="M1030 795L1100 800M1030 804L1100 809M1030 813L1100 818M1030 831L1100 836M1030 840L1100 845M1030 849L1100 854M1030 867L1100 872M1030 876L1100 881M1030 885L1100 890M1030 903L1100 908M1030 912L1100 917M1030 921L1100 926M1030 939L1100 944M1030 948L1100 953M1030 957L1100 962M1030 975L1100 980M1030 984L1100 989M1030 993L1100 998M1030 1011L1100 1016M1030 1020L1100 1025M1030 1029L1100 1034M1030 1047L1100 1052M1030 1056L1100 1061M1030 1065L1100 1070M1030 1083L1100 1088M1030 1092L1100 1097" stroke-width="1"/>
<path class="w" d="M995 555L1020 520L1110 515L1135 545V610L1050 640L995 610Z"/>
<path d="M995 555L1050 575L1135 545M1050 575V640"/>
<path class="w" d="M1035 470H1090V560H1035Z"/><path d="M1035 485L1090 490M1035 493L1090 498M1035 501L1090 506M1035 517L1090 522M1035 525L1090 530M1035 533L1090 538M1035 549L1090 554M1035 557L1090 562" stroke-width="1"/>
<ellipse cx="1062" cy="545" rx="35" ry="14"/>
<path class="w" d="M1010 400L1030 370L1090 365L1115 395V460L1090 480H1030L1010 455Z"/>
<path d="M1010 400L1040 415L1115 395M1040 415V480"/>
<!-- right bolt -->
<path class="w" d="M1360 590V900L1375 925H1410L1430 900V590Z"/>
<path d="M1360 595L1430 600M1360 604L1430 609M1360 613L1430 618M1360 631L1430 636M1360 640L1430 645M1360 649L1430 654M1360 667L1430 672M1360 676L1430 681M1360 685L1430 690M1360 703L1430 708M1360 712L1430 717M1360 721L1430 726M1360 739L1430 744M1360 748L1430 753M1360 757L1430 762M1360 775L1430 780M1360 784L1430 789M1360 793L1430 798M1360 811L1430 816M1360 820L1430 825M1360 829L1430 834M1360 847L1430 852M1360 856L1430 861M1360 865L1430 870M1360 883L1430 888M1360 892L1430 897" stroke-width="1"/>
<path class="w" d="M1325 340L1350 305L1445 300L1470 335V395L1380 440L1325 400Z"/>
<path d="M1325 340L1380 365L1470 335M1380 365V440"/>
<path class="w" d="M1365 265H1430V355H1365Z"/><path d="M1365 280L1430 285M1365 288L1430 293M1365 296L1430 301M1365 312L1430 317M1365 320L1430 325M1365 328L1430 333M1365 344L1430 349M1365 352L1430 357" stroke-width="1"/>
<ellipse cx="1397" cy="340" rx="38" ry="15"/>
<path class="w" d="M1338 190L1360 160L1430 158L1455 190V250L1430 275H1365L1338 250Z"/>
<path d="M1338 190L1370 205L1455 190M1370 205V275"/>
<!-- key 24 -->
<path d="M575 1420L610 1395L650 1415V1580L610 1600L575 1580ZM575 1420L612 1440L650 1415M612 1440L610 1600"/>
</g>
<!-- 23_flywheel.svg -->
<g class="p" transform="translate(1640,2320) scale(0.20466)">
<path d="M1600 600v45L1600 660M1600 614v47M1600 630L1598 644M1598 627v48L1596 691M1596 641v50M1596 658L1594 673M1594 655v52L1590 721M1590 668v53M1590 687L1586 701M1586 682v55L1581 751M1581 695v56M1581 715L1575 728M1575 708v58L1568 781M1568 721v60M1568 742L1561 756M1561 734v61L1553 810M1553 747v63M1553 769L1544 782M1544 760v64L1534 838M1534 773v66M1534 795L1524 808M1524 785v67L1513 866M1513 797v69M1513 821L1502 834M1502 809v70L1489 892M1489 821v71M1489 846L1476 858M1476 832v73L1462 918M1462 843v74M1462 869L1448 881M1448 854v75L1433 942M1433 865v77M1433 892L1418 903M1418 876v78L1401 965M1401 886v79M1401 913L1385 924M1385 896v80L1367 987M1367 905v81M1367 934L1350 943M1350 914v83L1331 1007M1331 923v84M1331 952L1312 961M1312 932v85L1293 1025M1293 940v86M1293 970L1273 978M1273 948v87L1253 1042M1253 955v87M1253 986L1232 993M1232 962v88L1211 1058M1211 969v89M1211 1000L1190 1006M1190 975v90L1168 1071M1168 981v91M1168 1012L1146 1018M1146 986v91L1124 1083M1124 991v92M1124 1023L1101 1028M1101 996v92L1078 1093M1078 1000v93M1078 1032L1055 1036M1055 1004v93L1032 1101M1032 1007v94M1032 1040L1008 1043M1008 1010v94L985 1107M985 1012v94M985 1045L961 1048M961 1014v95L937 1111M937 1016v95M937 1049L913 1050M913 1017v95L889 1113M889 1018v95M889 1051L865 1051M865 1018v95L841 1113M841 1018v95M841 1051L817 1050M817 1017v95L793 1111M793 1016v95M793 1049L769 1048M769 1014v95L745 1107M745 1012v94M745 1045L722 1043M722 1010v94L698 1101M698 1007v94M698 1040L675 1036M675 1004v93L652 1093M652 1000v93M652 1032L629 1028M629 996v92L606 1083M606 991v92M606 1023L584 1018M584 986v91L562 1071M562 981v91M562 1012L540 1006M540 975v90L519 1058M519 969v89M519 1000L498 993M498 962v88L477 1042M477 955v87M477 986L457 978M457 948v87L437 1025M437 940v86M437 970L418 961M418 932v85L399 1007M399 923v84M399 952L380 943M380 914v83L363 987M363 905v81M363 934L345 924M345 896v80L329 965M329 886v79M329 913L312 903M312 876v78L297 942M297 865v77M297 892L282 881M282 854v75L268 918M268 843v74M268 869L254 858M254 832v73L241 892M241 821v71M241 846L228 834M228 809v70L217 866M217 797v69M217 821L206 808M206 785v67L196 838M196 773v66M196 795L186 782M186 760v64L177 810M177 747v63M177 769L169 756M169 734v61L162 781M162 721v60M162 742L155 728M155 708v58L149 751M149 695v56M149 715L144 701M144 682v55L140 721M140 668v53M140 687L136 673M136 655v52L134 691M134 641v50M134 658L132 644M132 627v48L130 660M130 614v47M130 630L130 616M130 600v45" stroke-width="1.5"/>
<path class="w" d="M135 650L118 500C125 300 450 115 865 110C1280 115 1600 300 1612 500L1600 650C1550 800 1350 960 1110 1010H690C400 960 200 800 135 650Z"/>
<path d="M120 520C160 640 200 700 260 760M1610 520C1570 640 1520 700 1470 770"/>
<path d="M390 620C330 580 280 520 265 430C270 280 500 150 865 148C1230 150 1460 280 1468 430C1450 520 1400 570 1360 600"/>
<path d="M330 390C300 360 350 300 410 275L350 265L375 240L430 262M330 390L470 410L520 385L545 365M345 380C330 350 370 305 420 285M1395 340C1380 300 1330 265 1290 250L1340 225M1395 340L1390 365L1220 385L1185 365M400 245C550 170 700 150 865 148M440 262C560 200 700 180 800 172M710 125L870 135L900 100L960 98M905 120C1100 125 1250 180 1330 225M930 160C1080 170 1200 200 1260 240"/>
<!-- mid ring -->
<path d="M535 400C545 500 680 590 865 590C1050 590 1185 500 1195 400M545 415C560 505 690 578 865 578C1040 578 1172 505 1185 415"/>
<path d="M535 400C540 320 620 290 720 275M1010 275C1110 290 1190 330 1195 400" stroke-width="2"/>
<ellipse cx="875" cy="543" rx="25" ry="13" stroke-width="1.6"/>
<!-- hub -->
<ellipse cx="865" cy="425" rx="218" ry="98"/><ellipse cx="865" cy="422" rx="205" ry="90"/>
<path class="w" d="M725 250L690 420C720 500 1010 500 1040 420L1005 250Z"/>
<path d="M690 420C720 500 1010 500 1040 420M700 400C740 470 990 470 1030 400M725 275C760 325 970 325 1005 275M715 320C750 360 800 370 830 372M1015 320C990 350 950 365 920 370M708 360C740 400 800 410 830 412M1022 360C1000 390 950 405 920 408"/>
<ellipse class="w" cx="865" cy="245" rx="140" ry="70"/>
<ellipse cx="862" cy="245" rx="85" ry="45"/><path d="M780 255L760 262L770 275L790 268"/>
<!-- pads -->
<path d="M200 640L390 620L490 640L520 660L540 820L520 830L330 770ZM490 640L480 700L540 820M200 660L470 710"/>
<ellipse cx="405" cy="748" rx="42" ry="25"/>
<path d="M1275 630C1290 610 1330 595 1370 600L1535 630L1380 760L1300 700ZM1290 640L1310 690L1535 640"/>
<ellipse cx="1370" cy="715" rx="42" ry="25"/>
<path d="M200 640C300 700 500 730 865 730C1150 725 1250 700 1275 650M310 830C400 850 460 900 470 960M1330 900C1340 850 1400 800 1460 785"/>
<!-- magnet -->
<path class="w" d="M690 1010V800L710 770L1090 760L1110 800V1010Z"/>
<path d="M735 1010V810L1060 800V1010M700 790L1100 780M720 810L735 790L1050 782L1070 800M740 830H1055M790 825H820M980 822H1010M715 800V1010M1085 800V1010" />
<circle cx="900" cy="935" r="35"/><path d="M885 935H915M900 920V950" stroke-width="2.4"/>
</g>
<!-- 24_783.svg -->
<g class="p" transform="translate(1980,2350) scale(0.108016)" stroke-width="1.3">
<path d="M1090 290C1110 265 1180 260 1215 275C1235 290 1240 310 1235 325M1090 290C1075 310 1075 330 1095 345L1150 350" stroke-width="2.6"/>
<path d="M1110 335L1150 338" stroke-width="2.6"/>
<ellipse cx="1145" cy="672" rx="245" ry="160"/><ellipse cx="1145" cy="668" rx="235" ry="150"/>
<ellipse class="w" cx="1145" cy="610" rx="215" ry="125"/>
<path d="M930 612L905 665M1360 612L1385 665M935 640C960 730 1330 730 1355 640"/>
<ellipse cx="1140" cy="588" rx="150" ry="80"/>
<ellipse cx="1145" cy="585" rx="68" ry="37" stroke-width="2.2"/><path d="M1090 590C1110 570 1180 570 1200 590"/>
<!-- gear -->
<path class="w" d="M1448 1432L1528 1445L1528 1465L1448 1478L1440 1507L1508 1543L1498 1561L1417 1550L1395 1575L1441 1628L1423 1643L1351 1609L1317 1627L1336 1690L1312 1699L1260 1647L1219 1656L1207 1721L1180 1723L1155 1660L1112 1657L1072 1715L1046 1710L1050 1645L1012 1631L949 1675L928 1663L961 1604L932 1582L854 1604L840 1588L898 1543L883 1515L801 1514L796 1494L871 1470L871 1440L796 1416L801 1396L883 1395L898 1367L840 1322L854 1306L932 1328L961 1306L928 1247L949 1235L1012 1279L1050 1265L1046 1200L1072 1195L1112 1253L1155 1250L1180 1187L1207 1189L1219 1254L1260 1263L1312 1211L1336 1220L1317 1283L1351 1301L1423 1267L1441 1282L1395 1335L1417 1360L1498 1349L1508 1367L1440 1403Z"/>
<path d="M1448 1232v200M1528 1245v200M1528 1265v200M1448 1278v200M1440 1307v200M1508 1343v200M1498 1361v200M1417 1350v200M1395 1375v200M1441 1428v200M1423 1443v200M1351 1409v200M1317 1427v200M1336 1490v200M1312 1499v200M1260 1447v200M1219 1456v200M1207 1521v200M1180 1523v200M1155 1460v200M1112 1457v200M1072 1515v200M1046 1510v200M1050 1445v200M1012 1431v200M949 1475v200M928 1463v200M961 1404v200M932 1382v200M854 1404v200M840 1388v200M898 1343v200M883 1315v200M801 1314v200M796 1294v200M871 1270v200M871 1240v200M796 1216v200"/>
<path class="w" d="M1448 1232L1528 1245L1528 1265L1448 1278L1440 1307L1508 1343L1498 1361L1417 1350L1395 1375L1441 1428L1423 1443L1351 1409L1317 1427L1336 1490L1312 1499L1260 1447L1219 1456L1207 1521L1180 1523L1155 1460L1112 1457L1072 1515L1046 1510L1050 1445L1012 1431L949 1475L928 1463L961 1404L932 1382L854 1404L840 1388L898 1343L883 1315L801 1314L796 1294L871 1270L871 1240L796 1216L801 1196L883 1195L898 1167L840 1122L854 1106L932 1128L961 1106L928 1047L949 1035L1012 1079L1050 1065L1046 1000L1072 995L1112 1053L1155 1050L1180 987L1207 989L1219 1054L1260 1063L1312 1011L1336 1020L1317 1083L1351 1101L1423 1067L1441 1082L1395 1135L1417 1160L1498 1149L1508 1167L1440 1203Z"/>
<path d="M1020 1160C1080 1110 1250 1110 1330 1180L1340 1210L1290 1230C1200 1200 1110 1230 1050 1310L1020 1290L980 1240L1020 1230ZM1050 1310C1120 1250 1200 1230 1290 1250V1300M1060 1320C1150 1340 1240 1330 1290 1300" stroke-width="1.5"/>
</g>
<g>
<text transform="translate(896.70,161.7) scale(1.0288,1)">431B</text>
<text transform="translate(892.30,305) scale(0.9750,1)">1266</text>
<text transform="translate(1147.30,305) scale(1.0115,1)">964</text>
<text transform="translate(980.70,660.7) scale(1.0192,1)">967B</text>
<text transform="translate(1291.00,77.8) scale(1.0122,1)">304G</text>
<text transform="translate(1317.00,143.9) scale(1.0151,1)">968B</text>
<text transform="translate(1362.70,610.7) scale(1.0233,1)">445B</text>
<text transform="translate(1756.50,671.7) scale(0.9823,1)">1139</text>
<text transform="translate(1947.00,657.5) scale(1.0183,1)">305C</text>
<text transform="translate(1780.60,735) scale(1.0057,1)">773</text>
<text transform="translate(1061.90,918) scale(0.9659,1)">1139</text>
<text transform="translate(1087.00,983) scale(0.9693,1)">773</text>
<text transform="translate(1304.60,994) scale(0.9750,1)">1040</text>
<text transform="translate(1533.40,850.8) scale(1.0096,1)">305</text>
<text transform="translate(1753.70,848.6) scale(1.0192,1)">305B</text>
<text transform="translate(1735.60,1071.8) scale(0.9941,1)">1040B</text>
<text transform="translate(152.60,1189.2) scale(1.0288,1)">676</text>
<text transform="translate(235.20,1381.7) scale(0.9827,1)">677</text>
<text transform="translate(343.80,1191.5) scale(1.0233,1)">676A</text>
<text transform="translate(405.80,1381.7) scale(1.0356,1)">677A</text>
<text transform="translate(531.20,1188.3) scale(1.0288,1)">676B</text>
<text transform="translate(619.80,1379.4) scale(0.9923,1)">677</text>
<text transform="translate(746.10,1189.2) scale(1.0019,1)">994</text>
<text transform="translate(830.00,1379.4) scale(1.0019,1)">346</text>
<text transform="translate(142.70,1583.5) scale(1.0329,1)">300A</text>
<text transform="translate(403.30,1613.7) scale(1.0038,1)">864</text>
<text transform="translate(215.50,1648.2) scale(1.0268,1)">883</text>
<text transform="translate(414.20,1682) scale(1.0192,1)">883</text>
<text transform="translate(522.20,1807.6) scale(0.9144,1)">81</text>
<text transform="translate(168.20,1847.3) scale(1.0384,1)">613A</text>
<text transform="translate(546.60,1988.4) scale(1.0134,1)">613</text>
<text transform="translate(267.50,2066) scale(1.0134,1)">823</text>
<text transform="translate(131.70,2209.4) scale(1.0398,1)">300B</text>
<text transform="translate(532.40,2218) scale(1.0115,1)">883</text>
<text transform="translate(135.80,2437.6) scale(1.0307,1)">613</text>
<text transform="translate(256.00,2487.7) scale(0.9317,1)">81</text>
<text transform="translate(451.50,2540.4) scale(1.0260,1)">613B</text>
<text transform="translate(629.60,2437.6) scale(1.0307,1)">864</text>
<text transform="translate(627.00,2517.4) scale(1.0134,1)">883</text>
<text transform="translate(894.70,2642.8) scale(1.0115,1)">823</text>
<text transform="translate(1005.80,1520.8) scale(0.9827,1)">832</text>
<text transform="translate(1011.00,1860.5) scale(0.9980,1)">836</text>
<text transform="translate(976.20,2262) scale(1.0219,1)">832A</text>
<text transform="translate(985.40,2456.9) scale(1.0151,1)">832B</text>
<text transform="translate(1601.00,1333.8) scale(0.9942,1)">324</text>
<text transform="translate(1629.00,1397.3) scale(1.0192,1)">415A</text>
<text transform="translate(1463.90,1790) scale(0.9837,1)">78</text>
<text transform="translate(1401.90,1970.3) scale(0.9548,1)">37</text>
<text transform="translate(1776.30,1886.4) scale(0.9390,1)">1044</text>
<text transform="translate(1552.50,2103.7) scale(0.9721,1)">1005</text>
<text transform="translate(2032.70,2114) scale(1.0038,1)">363</text>
<text transform="translate(1987.00,2277) scale(0.9808,1)">24</text>
<text transform="translate(1588.90,2363.4) scale(1.0385,1)">23</text>
<text transform="translate(2007.60,2392.3) scale(0.9145,1)">1051</text>
<text transform="translate(1994.30,2503.7) scale(0.9865,1)">783</text>
</g>
</svg></body></html>
